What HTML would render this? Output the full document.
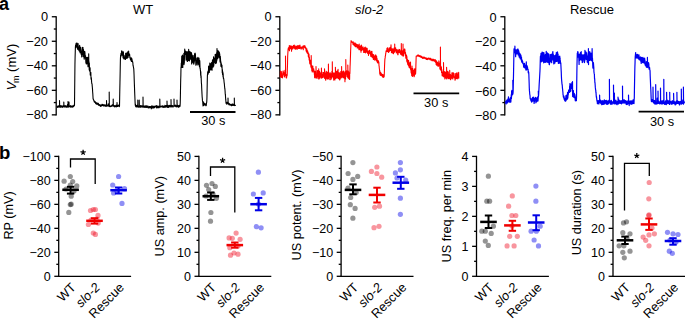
<!DOCTYPE html>
<html><head><meta charset="utf-8"><style>
html,body{margin:0;padding:0;background:#fff;width:685px;height:321px;overflow:hidden}
svg{display:block}
text{font-family:"Liberation Sans", sans-serif;}
</style></head><body>
<svg width="685" height="321" viewBox="0 0 685 321" font-family='"Liberation Sans", sans-serif'>
<rect width="685" height="321" fill="#fff"/>
<text x="-1" y="9.6" font-size="18" font-weight="bold">a</text>
<text x="-1.0" y="158.9" font-size="18.5" font-weight="bold">b</text>
<g font-size="13" text-anchor="middle">
<text x="143" y="14.2">WT</text>
<text x="369.2" y="14.2" font-style="italic">slo-2</text>
<text x="592" y="14.1">Rescue</text>
</g>
<text transform="translate(16.1,68.5) rotate(-90)" text-anchor="middle" font-size="13"><tspan font-style="italic" dx="1.5">V</tspan><tspan font-size="9" dy="2.5" dx="-1.5">m</tspan><tspan dy="-2.5"> (mV)</tspan></text>
<g stroke="#000" stroke-width="1.3" fill="none">
<line x1="56.2" y1="16.15" x2="56.2" y2="115.446" />
<line x1="51.800000000000004" y1="16.75" x2="56.2" y2="16.75" />
<line x1="53.800000000000004" y1="29.01" x2="56.2" y2="29.01" />
<line x1="51.800000000000004" y1="41.27" x2="56.2" y2="41.27" />
<line x1="53.800000000000004" y1="53.54" x2="56.2" y2="53.54" />
<line x1="51.800000000000004" y1="65.80" x2="56.2" y2="65.80" />
<line x1="53.800000000000004" y1="78.06" x2="56.2" y2="78.06" />
<line x1="51.800000000000004" y1="90.32" x2="56.2" y2="90.32" />
<line x1="53.800000000000004" y1="102.58" x2="56.2" y2="102.58" />
<line x1="51.800000000000004" y1="114.85" x2="56.2" y2="114.85" />
<line x1="279.8" y1="16.15" x2="279.8" y2="115.446" />
<line x1="275.40000000000003" y1="16.75" x2="279.8" y2="16.75" />
<line x1="277.40000000000003" y1="29.01" x2="279.8" y2="29.01" />
<line x1="275.40000000000003" y1="41.27" x2="279.8" y2="41.27" />
<line x1="277.40000000000003" y1="53.54" x2="279.8" y2="53.54" />
<line x1="275.40000000000003" y1="65.80" x2="279.8" y2="65.80" />
<line x1="277.40000000000003" y1="78.06" x2="279.8" y2="78.06" />
<line x1="275.40000000000003" y1="90.32" x2="279.8" y2="90.32" />
<line x1="277.40000000000003" y1="102.58" x2="279.8" y2="102.58" />
<line x1="275.40000000000003" y1="114.85" x2="279.8" y2="114.85" />
<line x1="504.8" y1="16.15" x2="504.8" y2="115.446" />
<line x1="500.40000000000003" y1="16.75" x2="504.8" y2="16.75" />
<line x1="502.40000000000003" y1="29.01" x2="504.8" y2="29.01" />
<line x1="500.40000000000003" y1="41.27" x2="504.8" y2="41.27" />
<line x1="502.40000000000003" y1="53.54" x2="504.8" y2="53.54" />
<line x1="500.40000000000003" y1="65.80" x2="504.8" y2="65.80" />
<line x1="502.40000000000003" y1="78.06" x2="504.8" y2="78.06" />
<line x1="500.40000000000003" y1="90.32" x2="504.8" y2="90.32" />
<line x1="502.40000000000003" y1="102.58" x2="504.8" y2="102.58" />
<line x1="500.40000000000003" y1="114.85" x2="504.8" y2="114.85" />
</g>
<g font-size="12.8">
<text x="48.0" y="21.35" text-anchor="end">0</text>
<text x="48.0" y="45.87" text-anchor="end">−20</text>
<text x="48.0" y="70.40" text-anchor="end">−40</text>
<text x="48.0" y="94.92" text-anchor="end">−60</text>
<text x="48.0" y="119.45" text-anchor="end">−80</text>
<text x="271.6" y="21.35" text-anchor="end">0</text>
<text x="271.6" y="45.87" text-anchor="end">−20</text>
<text x="271.6" y="70.40" text-anchor="end">−40</text>
<text x="271.6" y="94.92" text-anchor="end">−60</text>
<text x="271.6" y="119.45" text-anchor="end">−80</text>
<text x="496.6" y="21.95" text-anchor="end">0</text>
<text x="496.6" y="46.47" text-anchor="end">−20</text>
<text x="496.6" y="71.00" text-anchor="end">−40</text>
<text x="496.6" y="95.52" text-anchor="end">−60</text>
<text x="496.6" y="120.05" text-anchor="end">−80</text>
</g>
<polyline points="56.80,106.51 56.95,106.74 57.10,106.65 57.25,107.15 57.40,106.38 57.55,107.23 57.70,105.96 57.85,107.46 58.00,106.83 58.15,105.77 58.30,105.76 58.45,107.07 58.60,106.88 58.75,106.48 58.90,106.48 59.05,105.83 59.20,107.03 59.35,106.59 59.50,105.85 59.65,105.63 59.50,100.50 59.65,106.36 59.80,106.96 59.95,107.18 60.10,105.62 60.25,107.13 60.40,107.23 60.55,105.72 60.70,106.87 60.85,105.73 61.00,107.19 61.15,105.82 61.30,105.84 61.45,107.05 61.60,106.72 61.75,106.16 61.90,106.11 62.05,106.10 62.20,106.25 62.35,107.46 62.50,106.30 62.65,106.07 62.80,107.05 62.95,105.72 63.10,105.84 63.25,106.71 63.40,105.90 63.55,105.56 63.70,105.82 63.85,106.06 63.80,102.00 63.95,106.92 64.00,106.27 64.15,106.93 64.30,105.76 64.45,106.86 64.60,105.80 64.75,107.02 64.90,107.01 65.05,106.41 65.20,105.58 65.35,107.02 65.50,106.63 65.65,106.88 65.80,106.08 65.95,106.87 66.10,106.13 66.25,107.22 66.40,106.31 66.55,107.30 66.70,105.95 66.85,106.41 67.00,105.96 67.15,107.14 67.30,106.69 67.45,106.51 67.60,104.21 67.75,105.93 67.90,106.68 68.05,107.13 68.00,101.50 68.15,106.42 68.20,106.71 68.35,106.72 68.50,106.81 68.65,106.07 68.80,106.95 68.95,106.11 69.10,106.80 69.00,102.00 69.15,106.49 69.25,105.95 69.40,106.29 69.55,106.32 69.70,106.72 69.85,105.94 70.00,106.32 70.15,106.82 70.30,105.62 70.45,105.98 70.60,106.49 70.75,107.25 70.90,105.77 71.05,106.88 71.20,106.02 71.35,106.79 71.50,107.12 71.65,106.70 71.80,106.28 71.95,107.05 72.10,106.17 72.25,106.06 72.40,106.37 72.55,106.97 72.70,107.14 72.85,105.84 73.00,105.99 73.15,106.17 73.30,106.24 73.45,106.74 73.60,106.03 73.75,105.27 73.90,105.22 74.05,105.86 74.20,105.43 74.35,105.81 74.50,105.06 74.65,91.57 74.80,78.17 74.95,64.34 75.10,57.32 75.25,52.26 75.40,47.32 75.55,45.12 75.70,45.90 75.85,47.24 76.00,43.57 76.15,46.40 76.30,43.15 76.45,44.04 76.60,45.13 76.75,46.83 76.90,47.46 77.05,43.08 77.20,47.61 77.35,45.89 77.50,49.17 77.65,46.67 77.80,48.24 77.95,45.60 78.10,43.49 78.25,48.23 78.40,47.55 78.55,49.25 78.70,50.27 78.85,49.25 79.00,50.80 79.15,46.70 79.30,48.01 79.45,51.30 79.60,45.31 79.75,45.89 79.90,47.06 80.05,52.69 80.20,47.05 80.35,52.35 80.50,52.26 80.65,50.77 80.80,47.44 80.95,51.91 81.10,54.24 81.25,52.78 81.40,53.47 81.55,52.03 81.70,56.96 81.85,56.42 82.00,53.14 82.15,49.77 82.30,52.28 82.45,47.42 82.60,51.85 82.75,54.48 82.90,51.52 83.05,47.60 83.00,48.60 83.15,52.53 83.20,56.62 83.35,50.40 83.50,49.49 83.65,56.60 83.80,53.69 83.95,51.21 84.10,58.53 84.25,59.28 84.40,56.51 84.55,53.46 84.70,51.28 84.85,51.82 85.00,53.53 85.15,56.84 85.30,56.01 85.45,58.20 85.60,55.71 85.75,60.50 85.90,63.01 86.05,63.37 86.20,62.45 86.35,64.06 86.50,58.41 86.65,57.43 86.80,63.71 86.95,57.61 87.10,57.92 87.25,63.49 87.40,63.42 87.55,60.26 87.70,57.19 87.85,63.73 88.00,66.73 88.15,62.86 88.30,63.09 88.45,60.47 88.60,60.09 88.75,64.43 88.70,53.80 88.85,65.40 88.90,61.41 89.05,62.50 89.20,69.77 89.35,63.17 89.50,71.05 89.65,70.50 89.80,69.15 89.95,69.85 90.10,67.82 90.25,75.11 90.40,73.20 90.55,73.69 90.70,72.79 90.85,72.50 91.00,78.40 91.15,79.39 91.30,77.43 91.45,79.15 91.60,81.82 91.75,83.37 91.90,83.88 92.05,83.81 92.20,85.87 92.35,87.23 92.50,89.14 92.65,91.93 92.80,93.63 92.95,96.34 93.10,98.88 93.25,98.77 93.40,99.35 93.55,99.95 93.70,100.28 93.85,100.11 94.00,101.11 94.15,101.33 94.30,101.36 94.45,102.32 94.60,102.06 94.75,101.34 94.90,101.69 95.05,101.49 95.20,102.15 95.35,102.06 95.50,102.69 95.65,103.55 95.80,103.76 95.95,103.60 96.10,103.35 96.25,102.47 96.40,102.79 96.55,102.90 96.70,103.77 96.85,104.43 97.00,103.71 97.15,103.43 97.30,103.95 97.45,103.28 97.60,104.07 97.75,103.09 97.90,103.57 98.05,104.30 98.20,104.85 98.35,103.35 98.50,104.15 98.65,105.28 98.80,104.63 98.95,105.13 99.10,105.71 99.25,105.13 99.40,105.25 99.55,104.57 99.70,105.22 99.85,105.15 100.00,105.26 100.15,105.52 100.30,105.91 100.45,106.36 100.60,105.95 100.75,104.88 100.90,106.12 101.05,105.37 101.20,105.93 101.35,105.72 101.50,105.94 101.65,104.95 101.80,106.06 101.95,104.40 102.10,104.75 102.25,105.35 102.40,105.19 102.55,104.38 102.70,105.26 102.85,104.99 103.00,104.75 103.15,105.76 103.30,104.59 103.45,105.93 103.60,105.86 103.75,105.24 103.90,105.92 104.05,105.63 104.20,105.05 104.35,105.83 104.50,105.30 104.65,104.77 104.80,104.82 104.95,105.77 105.10,106.07 105.25,106.29 105.40,105.31 105.55,105.07 105.70,106.20 105.85,105.35 106.00,105.41 106.15,105.35 106.30,105.89 106.45,106.20 106.60,106.14 106.50,100.50 106.65,105.90 106.75,105.03 106.90,105.20 107.05,106.11 107.20,105.18 107.35,105.22 107.50,105.28 107.65,105.61 107.80,105.56 107.95,105.58 108.10,105.90 108.25,103.71 108.40,105.51 108.55,105.66 108.70,104.63 108.85,105.98 109.00,104.78 109.15,106.35 109.30,105.97 109.20,92.00 109.35,105.93 109.45,106.09 109.60,105.39 109.75,105.99 109.90,105.78 110.05,106.81 110.20,105.92 110.35,106.28 110.50,106.57 110.65,106.35 110.80,106.35 110.95,106.28 111.10,106.49 111.25,105.72 111.40,106.23 111.55,105.56 111.70,106.16 111.85,105.50 112.00,105.18 112.15,105.30 112.30,104.83 112.45,104.88 112.60,106.02 112.75,104.69 112.90,105.61 113.05,104.63 113.20,104.94 113.20,99.00 113.35,105.46 113.35,105.96 113.50,105.16 113.65,105.36 113.80,106.32 113.95,106.03 114.10,105.97 114.25,106.74 114.40,105.77 114.55,106.87 114.70,105.52 114.85,106.79 115.00,105.75 115.15,105.96 115.30,106.80 115.45,106.58 115.60,106.48 115.75,106.17 115.90,105.38 116.05,105.58 116.20,106.04 116.35,106.87 116.50,105.99 116.65,104.72 116.80,106.37 116.95,105.30 117.10,104.92 117.00,102.50 117.15,105.88 117.25,106.42 117.40,106.23 117.55,106.13 117.70,106.40 117.85,106.31 118.00,105.89 118.15,105.28 118.30,105.63 118.45,105.27 118.60,106.02 118.75,105.84 118.90,105.39 119.05,106.02 119.20,106.66 119.35,105.18 119.50,106.44 119.65,98.35 119.80,89.98 119.95,82.94 120.10,75.45 120.25,67.15 120.40,59.63 120.55,56.14 120.70,54.74 120.85,56.72 121.00,53.29 121.15,53.80 121.30,55.05 121.45,53.05 121.60,51.00 121.75,50.79 121.90,55.32 122.05,53.08 122.20,54.79 122.35,52.30 122.50,51.83 122.65,51.74 122.80,54.69 122.95,56.54 123.10,57.96 123.25,54.25 123.40,51.85 123.55,57.12 123.70,57.88 123.85,58.91 124.00,57.20 124.15,55.30 124.30,58.69 124.45,57.59 124.60,59.00 124.75,57.48 124.90,57.15 125.05,58.69 125.20,56.97 125.35,59.08 125.50,59.52 125.65,53.38 125.80,53.33 125.95,56.46 126.10,57.98 126.25,54.27 126.40,58.13 126.55,57.63 126.70,55.08 126.85,52.90 127.00,58.53 127.15,55.54 127.30,57.18 127.45,57.61 127.60,54.97 127.75,51.84 127.90,54.60 128.05,57.43 128.20,52.63 128.35,56.07 128.50,55.19 128.65,51.09 128.80,54.88 128.95,54.55 129.10,53.47 129.25,54.67 129.40,55.54 129.55,53.97 129.70,54.91 129.85,57.63 130.00,56.73 130.15,58.21 130.30,58.60 130.45,59.73 130.60,59.40 130.75,58.09 130.90,60.21 131.05,59.09 131.20,60.87 131.35,57.92 131.50,61.42 131.65,60.50 131.80,59.58 131.95,58.87 132.10,60.51 132.25,60.54 132.40,61.94 132.55,61.31 132.70,62.41 132.85,62.50 133.00,65.18 133.15,65.76 133.30,66.41 133.45,67.06 133.60,68.08 133.75,68.57 133.90,71.14 134.05,74.59 134.20,79.24 134.35,83.51 134.50,87.20 134.65,91.64 134.80,95.34 134.95,98.67 135.10,102.37 135.25,105.23 135.40,103.96 135.55,105.60 135.70,106.57 135.85,105.53 136.00,106.96 136.15,105.59 136.30,105.81 136.45,105.41 136.60,106.84 136.75,106.16 136.90,106.60 137.05,105.23 137.20,105.67 137.35,106.76 137.50,105.52 137.65,107.07 137.80,105.60 137.80,100.00 137.95,106.07 137.95,106.81 138.10,105.89 138.25,106.80 138.40,106.26 138.55,107.19 138.70,105.97 138.85,107.24 139.00,106.04 139.15,105.72 139.30,106.39 139.20,100.00 139.35,106.43 139.45,105.70 139.60,106.19 139.75,107.18 139.90,106.25 140.05,106.18 140.20,106.71 140.35,107.30 140.50,105.64 140.65,106.88 140.80,107.12 140.95,105.66 141.10,106.47 141.25,106.47 141.40,106.21 141.55,106.86 141.70,106.32 141.85,105.75 142.00,105.81 142.15,106.01 142.30,107.07 142.45,107.14 142.60,106.59 142.75,106.76 142.90,105.74 143.05,107.01 143.00,97.00 143.15,107.07 143.20,106.01 143.35,105.73 143.50,106.55 143.65,106.28 143.80,106.00 143.95,107.00 144.10,107.49 144.25,106.31 144.40,106.14 144.55,107.22 144.70,106.50 144.85,106.10 145.00,106.17 145.15,106.06 145.30,107.25 145.45,105.72 145.60,106.25 145.75,107.40 145.90,106.50 146.05,107.48 146.20,106.52 146.35,105.77 146.50,107.44 146.65,106.52 146.80,106.60 146.95,105.85 147.10,107.23 147.25,106.20 147.40,106.81 147.55,106.64 147.70,106.49 147.85,107.74 148.00,106.00 148.15,107.27 148.30,106.78 148.45,107.87 148.60,107.99 148.75,107.08 148.90,107.07 149.05,106.72 149.20,106.61 149.35,106.50 149.50,106.52 149.65,106.62 149.80,107.90 149.95,107.60 150.10,106.64 150.25,107.23 150.40,107.52 150.55,106.68 150.70,107.32 150.85,106.63 151.00,107.74 151.15,107.38 151.30,108.84 151.45,105.95 151.60,106.37 151.75,106.72 151.90,106.46 152.05,105.78 152.20,108.18 152.35,106.87 152.50,107.28 152.65,107.42 152.80,106.38 152.95,106.72 153.10,107.01 153.25,107.93 153.40,106.80 153.55,106.61 153.70,106.18 153.85,107.17 154.00,107.90 154.15,107.25 154.30,106.33 154.45,107.19 154.60,107.58 154.75,107.13 154.90,106.74 155.05,106.02 155.20,106.53 155.35,106.40 155.50,106.59 155.65,106.05 155.80,106.12 155.95,106.24 156.10,105.80 156.25,106.84 156.40,108.04 156.55,105.62 156.70,105.66 156.85,106.77 157.00,106.36 157.15,105.86 157.30,107.63 157.45,106.47 157.60,106.35 157.75,107.19 157.90,106.68 158.05,107.78 158.20,107.12 158.35,106.66 158.50,106.38 158.65,107.54 158.80,107.61 158.95,106.12 159.10,106.48 159.25,107.81 159.40,106.28 159.55,107.22 159.70,105.85 159.85,106.55 159.80,99.00 159.95,106.67 160.00,106.96 160.15,106.81 160.30,107.11 160.45,106.06 160.60,107.07 160.75,106.71 160.90,106.65 161.05,106.96 161.20,106.62 161.35,106.58 161.50,106.11 161.65,106.66 161.80,106.16 161.95,106.05 162.10,105.95 162.25,105.83 162.40,107.05 162.55,106.54 162.70,106.58 162.85,107.33 163.00,105.77 163.15,106.69 163.30,106.52 163.45,106.30 163.60,106.49 163.75,107.35 163.90,107.48 164.05,106.65 164.20,106.98 164.35,107.24 164.50,106.31 164.65,105.92 164.80,105.40 164.95,107.13 165.10,105.50 165.25,106.04 165.40,106.01 165.55,107.19 165.70,106.70 165.85,105.44 166.00,106.83 166.15,105.66 166.30,105.49 166.45,106.37 166.60,106.01 166.75,107.02 166.90,106.13 167.05,106.86 167.00,101.00 167.15,106.29 167.20,106.74 167.35,106.99 167.50,105.83 167.65,107.38 167.80,106.59 167.95,105.39 168.10,106.98 168.25,106.22 168.40,106.48 168.55,105.82 168.70,107.39 168.85,105.71 169.00,106.40 169.15,105.76 169.30,106.23 169.45,106.80 169.60,105.31 169.75,106.48 169.90,105.75 170.05,106.91 170.20,106.11 170.35,106.67 170.50,105.31 170.65,105.47 170.80,105.90 170.95,105.76 171.10,105.14 171.00,99.50 171.15,106.90 171.25,105.11 171.40,106.66 171.55,106.53 171.70,106.71 171.85,106.71 172.00,105.50 172.15,106.19 172.30,105.98 172.45,105.61 172.60,106.05 172.75,106.34 172.90,107.18 173.05,106.79 173.20,106.02 173.35,106.03 173.50,105.98 173.65,105.68 173.80,106.29 173.95,105.55 174.10,105.47 174.00,99.00 174.15,106.11 174.25,105.22 174.40,106.00 174.55,106.26 174.70,105.60 174.85,105.80 175.00,105.34 175.15,105.90 175.30,105.42 175.45,106.30 175.60,105.40 175.75,106.69 175.90,105.20 176.05,106.81 176.20,106.18 176.35,106.28 176.50,106.33 176.65,106.89 176.80,106.28 176.95,105.58 177.10,106.73 177.00,100.00 177.15,106.32 177.25,106.20 177.40,105.81 177.55,106.43 177.70,105.33 177.85,106.09 178.00,106.35 178.15,105.47 178.30,107.11 178.45,105.79 178.60,107.13 178.75,106.91 178.90,107.15 179.05,105.65 179.20,106.42 179.35,106.70 179.50,106.00 179.65,105.03 179.80,106.20 179.95,106.31 180.10,105.73 180.25,102.52 180.40,95.55 180.55,87.28 180.70,79.97 180.85,75.54 181.00,66.93 181.15,68.05 181.30,63.12 181.45,66.55 181.60,60.79 181.75,56.05 181.90,67.38 182.05,56.46 182.20,60.13 182.35,63.42 182.50,55.15 182.65,57.18 182.80,67.47 182.95,57.15 183.10,62.93 183.25,63.63 183.40,62.88 183.55,55.84 183.70,62.89 183.85,53.27 184.00,64.61 184.15,54.64 184.30,63.34 184.45,58.63 184.60,51.68 184.75,48.96 184.90,53.04 185.05,52.92 185.20,54.56 185.35,52.44 185.50,51.00 185.65,51.77 185.80,51.71 185.95,57.03 186.10,60.32 186.25,57.24 186.40,52.99 186.55,52.70 186.70,53.25 186.85,51.62 187.00,57.27 187.15,54.35 187.30,61.37 187.45,55.59 187.60,61.19 187.75,58.35 187.90,52.00 188.05,51.67 188.20,54.96 188.35,58.20 188.50,60.54 188.65,49.28 188.80,54.47 188.95,54.27 189.10,56.79 189.25,60.54 189.40,61.06 189.55,59.45 189.70,58.29 189.85,51.24 190.00,55.34 190.15,53.29 190.30,53.16 190.45,52.32 190.60,59.11 190.75,52.50 190.90,57.83 191.05,53.84 191.20,59.72 191.35,53.24 191.50,52.68 191.65,63.99 191.80,54.04 191.95,60.40 192.10,55.86 192.25,58.17 192.40,56.08 192.55,55.91 192.70,59.96 192.85,62.62 193.00,58.09 193.15,55.56 193.30,59.30 193.45,62.62 193.60,62.70 193.75,64.24 193.90,57.96 194.05,63.37 194.20,61.63 194.35,61.96 194.50,55.20 194.65,53.53 194.80,56.41 194.95,60.12 195.10,53.17 195.25,53.59 195.40,54.20 195.55,57.06 195.70,61.27 195.85,65.20 196.00,60.91 196.15,60.41 196.30,64.81 196.45,61.14 196.60,62.60 196.75,62.19 196.90,58.00 197.05,58.00 197.20,63.07 197.35,59.41 197.50,60.92 197.65,62.11 197.80,65.01 197.95,57.37 198.10,63.97 198.25,61.54 198.40,61.71 198.55,64.24 198.70,61.12 198.85,62.99 199.00,57.99 199.15,60.26 199.30,65.77 199.45,66.59 199.60,61.74 199.75,60.66 199.90,67.82 199.80,60.70 199.95,65.43 200.05,68.49 200.20,67.95 200.35,70.18 200.50,71.23 200.65,75.13 200.80,71.65 200.95,77.55 201.10,75.75 201.25,79.42 201.40,83.21 201.55,84.26 201.70,87.98 201.85,90.86 202.00,93.98 202.15,96.82 202.30,98.19 202.45,100.63 202.60,101.30 202.75,101.60 202.90,104.48 203.05,106.00 203.20,103.97 203.35,105.47 203.50,105.46 203.65,102.09 203.80,103.29 203.95,105.32 204.10,104.40 204.25,104.79 204.40,104.76 204.55,104.32 204.70,103.59 204.85,103.79 205.00,104.61 205.15,104.96 205.30,104.23 205.45,104.76 205.60,104.21 205.75,103.86 205.90,105.79 206.05,104.02 206.20,105.75 206.35,104.40 206.50,103.13 206.65,102.51 206.80,101.22 206.95,97.59 207.10,90.16 207.25,82.37 207.40,75.61 207.55,74.19 207.70,72.01 207.85,73.48 208.00,71.16 208.15,74.25 208.30,72.49 208.45,71.59 208.60,65.93 208.75,69.42 208.90,70.74 209.05,71.95 209.20,69.99 209.35,72.38 209.50,66.04 209.65,69.94 209.80,63.00 209.95,65.13 210.10,63.18 210.25,64.23 210.40,64.04 210.55,69.86 210.70,69.77 210.85,67.40 211.00,68.90 211.15,68.39 211.30,69.76 211.45,62.50 211.60,65.59 211.75,64.03 211.90,65.02 212.05,70.31 212.20,65.80 212.35,61.71 212.50,59.81 212.65,64.81 212.80,66.84 212.95,63.07 213.10,67.11 213.25,65.70 213.40,63.41 213.55,56.70 213.70,66.16 213.85,64.51 214.00,60.66 214.15,60.21 214.30,59.66 214.45,58.85 214.60,60.49 214.75,57.92 214.90,57.75 215.05,62.70 215.20,54.35 215.35,56.68 215.50,63.16 215.65,63.56 215.80,62.83 215.95,54.34 216.10,60.05 216.25,60.00 216.40,62.86 216.55,58.14 216.70,52.62 216.85,60.63 217.00,48.51 217.15,56.24 217.30,58.40 217.45,50.49 217.60,58.45 217.75,58.71 217.90,53.70 218.05,50.54 218.20,53.07 218.35,55.66 218.50,56.99 218.65,52.28 218.80,51.49 218.95,52.17 219.10,57.60 219.25,52.23 219.40,52.82 219.55,53.40 219.70,53.67 219.85,55.82 220.00,60.85 220.15,62.25 220.30,56.39 220.45,58.55 220.60,60.78 220.75,61.13 220.90,66.27 221.05,62.61 221.20,66.41 221.35,63.68 221.50,64.80 221.65,67.16 221.80,67.23 221.95,65.13 222.10,68.52 222.25,72.72 222.40,69.51 222.55,74.55 222.70,72.04 222.85,71.86 223.00,76.49 223.15,73.59 223.30,77.66 223.45,78.75 223.60,78.09 223.75,79.07 223.90,79.90 224.05,81.70 224.20,82.88 224.35,83.80 224.50,85.75 224.65,87.30 224.80,88.73 224.95,89.45 225.10,91.39 225.25,94.17 225.40,94.73 225.55,97.21 225.70,99.42 225.85,100.69 226.00,103.23 226.15,102.18 226.30,102.57 226.45,102.17 226.60,102.49 226.75,104.22 226.90,103.20 227.05,103.15 227.20,102.34 227.35,102.37 227.50,103.39 227.65,103.11 227.80,102.84 227.95,103.90 228.10,103.13 228.00,98.00 228.15,103.50 228.25,103.07 228.40,103.00 228.55,104.24 228.70,103.12 228.85,104.71 229.00,103.35 229.15,103.55 229.30,103.48 229.45,103.77 229.60,104.56 229.75,104.39 229.90,105.13 230.05,105.24 230.20,104.64 230.35,104.51 230.50,104.66 230.65,105.01 230.80,104.44 230.95,104.15 231.10,104.46 231.25,105.47 231.40,105.63 231.55,104.72 231.70,105.59 231.85,104.68 232.00,105.26 232.15,104.31 232.30,104.05 232.45,105.11 232.60,105.33 232.75,105.14 232.90,105.20 233.05,104.10 233.20,104.35 233.35,104.39 233.50,105.24 233.65,105.44 233.80,104.94 233.95,104.97 234.10,105.53 234.25,104.33 234.40,105.06 234.30,98.00 234.45,105.48 234.55,104.99 234.70,105.27 234.85,105.62 235.00,105.58 235.15,105.29 235.30,105.50 235.45,105.09" fill="none" stroke="#000" stroke-width="1.1" stroke-linejoin="round"/>
<polyline points="280.30,77.25 280.45,70.98 280.60,72.58 280.75,71.84 280.90,72.62 281.05,77.19 281.20,77.42 281.35,71.51 281.50,75.62 281.65,73.00 281.80,75.89 281.95,77.23 282.10,75.62 282.25,75.71 282.40,77.83 282.55,76.24 282.70,74.99 282.85,75.95 283.00,71.22 283.15,70.93 283.30,73.46 283.45,74.53 283.60,72.12 283.75,74.17 283.90,74.34 284.05,73.21 284.20,73.83 284.35,77.05 284.50,72.92 284.65,76.30 284.80,73.28 284.95,70.38 285.10,71.00 285.25,72.40 285.40,72.72 285.55,70.90 285.50,56.00 285.65,75.32 285.70,75.32 285.85,75.94 286.00,74.34 286.15,77.82 286.30,77.38 286.45,75.25 286.60,78.06 286.75,74.57 286.90,75.39 287.05,76.03 287.20,74.75 287.35,68.96 287.50,64.91 287.65,56.95 287.80,53.99 287.95,51.89 288.10,49.30 288.25,48.48 288.40,47.85 288.55,49.66 288.70,47.52 288.85,47.86 289.00,47.17 289.15,48.85 289.30,45.63 289.45,50.64 289.60,46.51 289.75,47.65 289.90,45.96 290.05,46.09 290.20,47.74 290.35,48.73 290.50,45.83 290.65,47.90 290.80,46.03 290.95,48.00 291.10,48.73 291.25,47.52 291.40,46.75 291.55,51.29 291.70,46.07 291.85,48.69 292.00,46.79 292.15,47.39 292.30,46.58 292.45,48.65 292.60,48.12 292.75,49.08 292.90,46.91 293.05,48.07 293.20,47.53 293.35,45.57 293.50,46.24 293.65,46.65 293.80,45.29 293.95,47.92 294.10,46.79 294.25,45.08 294.40,47.68 294.55,48.36 294.70,45.75 294.85,47.47 295.00,49.03 295.15,48.02 295.30,46.97 295.45,49.16 295.60,48.99 295.75,48.06 295.90,46.71 296.05,45.93 296.20,48.56 296.35,47.50 296.50,46.61 296.65,47.56 296.80,49.07 296.95,48.08 297.10,49.56 297.25,46.11 297.40,47.68 297.55,46.10 297.70,46.58 297.85,45.47 298.00,48.16 298.15,46.84 298.30,46.91 298.45,46.34 298.60,48.52 298.75,46.97 298.90,45.60 299.05,48.47 299.20,46.92 299.35,45.69 299.50,46.23 299.65,48.49 299.80,47.34 299.95,45.16 300.10,46.70 300.25,48.14 300.40,46.93 300.55,47.84 300.70,47.42 300.85,48.11 301.00,47.16 301.15,49.15 301.30,48.26 301.45,48.39 301.60,47.09 301.75,47.37 301.90,47.27 302.05,47.84 302.20,47.06 302.35,48.09 302.50,47.51 302.65,48.09 302.80,47.74 302.95,46.15 303.10,46.72 303.25,49.61 303.40,46.06 303.55,47.36 303.70,45.87 303.85,47.21 304.00,45.73 304.15,46.29 304.30,46.97 304.45,47.43 304.60,46.03 304.75,45.65 304.90,45.85 305.05,47.74 305.20,48.23 305.35,47.68 305.50,47.09 305.65,48.17 305.80,48.30 305.95,47.87 306.10,51.08 306.25,51.23 306.40,50.01 306.55,51.84 306.70,50.08 306.85,48.82 307.00,52.26 307.15,50.45 307.30,53.16 307.45,51.46 307.60,50.85 307.75,52.63 307.90,53.78 308.05,51.98 308.20,53.57 308.35,56.78 308.50,54.47 308.65,57.27 308.80,53.93 308.95,55.25 309.10,56.90 309.00,54.00 309.15,59.98 309.25,56.95 309.40,57.29 309.55,60.14 309.70,62.90 309.85,63.98 310.00,59.88 310.15,60.45 310.30,62.58 310.45,61.64 310.60,62.62 310.75,64.61 310.90,66.95 311.05,63.71 311.20,64.34 311.35,67.88 311.20,55.60 311.35,67.03 311.50,65.11 311.65,65.82 311.80,70.62 311.95,66.14 312.10,66.85 312.25,71.99 312.40,65.99 312.55,69.96 312.70,68.94 312.85,66.14 313.00,71.20 313.15,69.83 313.30,70.21 313.45,70.46 313.60,69.46 313.75,68.77 313.90,72.08 314.05,72.74 314.20,70.89 314.35,74.00 314.50,75.05 314.65,77.80 314.80,73.16 314.95,73.59 315.10,71.26 315.25,74.38 315.40,73.72 315.55,76.80 315.70,73.49 315.85,78.06 316.00,74.39 316.15,74.81 316.00,66.50 316.15,73.84 316.30,77.98 316.45,74.13 316.60,77.62 316.75,77.81 316.90,77.09 317.05,76.71 317.20,78.31 317.35,72.01 317.50,70.62 317.65,76.17 317.80,73.87 317.95,70.57 318.10,73.90 318.25,75.77 318.40,76.99 318.55,76.33 318.70,78.93 318.85,75.96 318.70,68.80 318.85,74.68 319.00,77.36 319.15,78.45 319.30,78.81 319.45,75.70 319.60,71.31 319.75,77.20 319.90,77.40 320.05,77.02 320.20,74.92 320.35,75.32 320.50,72.71 320.65,74.15 320.80,76.71 320.95,73.14 321.10,78.12 321.25,77.93 321.40,72.53 321.55,72.10 321.40,68.00 321.55,75.26 321.70,77.64 321.85,77.34 322.00,77.98 322.15,77.08 322.30,76.73 322.45,74.40 322.60,76.27 322.75,75.27 322.90,72.22 323.05,77.40 323.20,73.75 323.35,73.75 323.50,72.95 323.65,72.49 323.80,76.12 323.95,75.74 324.10,76.18 324.25,74.21 324.40,77.36 324.55,72.30 324.50,68.80 324.65,76.16 324.70,78.45 324.85,70.86 325.00,73.46 325.15,77.67 325.30,74.63 325.45,72.74 325.60,79.82 325.75,80.25 325.90,76.49 326.05,75.94 326.20,73.72 326.35,78.27 326.50,73.77 326.65,71.41 326.80,77.28 326.95,76.62 327.10,73.60 327.25,79.10 327.40,72.36 327.55,76.20 327.70,76.53 327.85,78.68 328.00,74.25 328.15,78.46 328.30,73.62 328.45,73.72 328.40,64.00 328.55,75.46 328.60,72.17 328.75,76.73 328.90,74.84 329.05,76.03 329.20,79.58 329.35,73.67 329.50,73.51 329.65,76.04 329.80,76.77 329.95,72.68 330.10,75.77 330.25,72.78 330.40,77.59 330.55,75.16 330.70,79.79 330.85,78.40 331.00,78.62 331.15,73.75 331.30,79.05 331.45,75.47 331.60,77.89 331.75,76.64 331.90,71.31 332.05,76.22 332.20,74.89 332.35,72.25 332.30,61.80 332.45,74.57 332.50,73.88 332.65,72.04 332.80,73.95 332.95,76.99 333.10,74.34 333.25,78.10 333.40,76.25 333.55,76.98 333.70,80.09 333.85,72.97 334.00,75.40 334.15,72.96 334.30,79.71 334.45,76.18 334.60,79.69 334.75,73.04 334.90,80.03 335.05,74.68 335.20,74.72 335.35,77.01 335.50,77.58 335.40,67.30 335.55,77.31 335.65,78.24 335.80,73.24 335.95,78.46 336.10,71.70 336.25,78.00 336.40,71.63 336.55,74.06 336.70,75.68 336.85,77.03 337.00,77.36 337.15,70.84 337.30,77.44 337.45,76.09 337.60,71.90 337.75,71.59 337.90,78.18 338.05,69.28 338.20,78.60 338.35,77.41 338.50,78.00 338.65,75.04 338.80,74.09 338.95,75.05 339.10,72.57 339.25,78.46 339.40,79.65 339.55,72.94 339.70,80.07 339.85,76.07 340.00,76.33 340.15,78.48 340.30,78.88 340.45,73.37 340.60,75.27 340.75,71.65 340.90,72.84 341.05,77.22 341.20,76.13 341.35,72.16 341.50,73.56 341.65,73.44 341.60,66.50 341.75,76.74 341.80,77.85 341.95,72.70 342.10,76.83 342.25,72.48 342.40,76.63 342.55,71.75 342.70,75.80 342.85,75.95 343.00,75.51 343.15,77.58 343.30,71.28 343.45,71.69 343.60,76.35 343.75,71.00 343.90,72.65 344.05,75.61 344.20,78.20 344.35,76.13 344.50,74.05 344.65,73.83 344.80,75.58 344.95,81.77 345.10,72.15 345.25,76.27 345.40,73.81 345.55,78.93 345.70,71.17 345.85,74.35 345.80,59.50 345.95,76.42 346.00,73.27 346.15,71.16 346.30,72.81 346.45,72.19 346.60,74.20 346.75,70.82 346.90,71.81 347.05,73.37 347.20,74.21 347.35,76.75 347.50,71.96 347.65,70.67 347.80,77.44 347.95,74.45 347.80,65.00 347.95,74.81 348.10,70.57 348.25,78.30 348.40,71.30 348.55,78.13 348.70,72.50 348.85,77.47 349.00,78.95 349.15,78.79 349.30,75.27 349.45,77.56 349.60,79.52 349.75,71.65 349.90,73.61 350.05,66.88 350.20,63.86 350.35,59.28 350.50,55.27 350.65,50.33 350.80,46.66 350.95,42.94 351.10,40.55 351.25,41.74 351.40,42.01 351.55,41.23 351.70,41.86 351.85,42.19 352.00,42.12 352.15,42.32 352.30,42.59 352.45,42.51 352.60,42.01 352.75,42.17 352.90,42.57 353.05,44.36 353.20,41.87 353.35,43.88 353.50,44.56 353.65,43.10 353.80,42.88 353.95,43.58 354.10,45.51 354.25,44.23 354.40,44.74 354.55,43.00 354.70,46.07 354.85,43.15 355.00,43.36 355.15,44.42 355.30,43.17 355.45,46.75 355.60,44.74 355.75,44.20 355.90,43.84 356.05,46.69 356.20,46.49 356.35,45.44 356.50,44.42 356.65,45.33 356.80,44.25 356.95,45.58 357.10,44.53 357.25,48.08 357.40,47.83 357.55,44.84 357.70,47.77 357.85,47.07 358.00,47.71 358.15,45.05 358.30,45.01 358.45,45.06 358.60,48.16 358.75,48.56 358.90,49.35 359.05,49.72 359.20,47.59 359.35,49.12 359.20,44.00 359.35,48.89 359.50,49.50 359.65,46.06 359.80,48.44 359.95,47.16 360.10,48.38 360.25,50.04 360.40,49.85 360.55,46.00 360.70,50.12 360.85,48.07 361.00,52.20 361.15,46.83 361.30,45.08 361.45,50.16 361.60,45.55 361.75,49.03 361.90,50.39 362.05,47.41 362.20,49.71 362.35,48.16 362.50,47.29 362.65,48.20 362.80,47.32 362.95,46.82 363.10,49.49 363.25,49.95 363.40,50.41 363.55,48.81 363.70,52.41 363.85,49.95 364.00,48.27 364.15,47.92 364.30,51.43 364.45,51.25 364.60,52.54 364.75,47.56 364.90,48.95 365.05,50.23 365.20,47.14 365.35,51.63 365.50,53.01 365.65,47.88 365.80,49.95 365.95,52.15 366.10,47.78 366.25,48.94 366.40,51.68 366.55,52.05 366.70,50.50 366.85,51.90 367.00,52.24 367.15,48.24 367.30,51.53 367.45,51.96 367.60,53.09 367.75,53.49 367.90,51.27 368.05,51.99 368.20,53.55 368.35,52.34 368.50,55.45 368.65,53.36 368.80,53.99 368.95,50.45 369.10,51.81 369.25,51.40 369.40,50.79 369.55,50.34 369.70,50.39 369.85,50.75 370.00,53.79 370.15,51.87 370.30,53.00 370.45,53.90 370.60,54.55 370.75,56.28 370.90,56.12 371.05,56.43 371.20,51.72 371.35,51.44 371.50,56.16 371.65,55.44 371.80,52.32 371.95,51.29 372.10,56.76 372.25,57.58 372.40,54.30 372.55,53.90 372.70,56.04 372.85,54.31 373.00,54.24 373.15,54.60 373.30,59.15 373.45,55.12 373.60,59.51 373.75,54.69 373.90,57.01 374.05,57.40 374.20,56.88 374.35,55.72 374.50,57.38 374.65,58.37 374.80,60.19 374.95,58.67 375.10,58.84 375.25,58.85 375.40,56.79 375.55,55.68 375.70,54.71 375.85,59.55 376.00,59.74 376.15,58.57 376.30,60.76 376.45,56.76 376.60,56.13 376.75,61.03 376.90,58.27 377.05,58.40 377.20,62.01 377.35,61.64 377.50,62.43 377.65,62.92 377.80,62.66 377.95,60.39 378.10,61.65 378.25,61.99 378.40,62.46 378.55,61.15 378.70,63.26 378.85,62.18 379.00,65.76 379.15,66.20 379.30,68.26 379.45,69.23 379.60,70.47 379.75,73.69 379.90,70.72 380.05,74.43 380.20,75.10 380.35,73.01 380.50,73.70 380.65,72.66 380.80,73.60 380.95,75.34 381.10,73.10 381.25,73.15 381.40,74.73 381.55,74.34 381.70,75.85 381.85,75.65 382.00,75.00 382.15,74.95 382.30,74.69 382.45,75.53 382.60,76.95 382.75,74.42 382.90,76.10 383.05,77.31 383.20,75.25 383.35,77.48 383.50,76.29 383.65,75.98 383.80,76.31 383.95,74.57 384.10,77.01 384.25,75.28 384.40,70.94 384.55,65.98 384.70,62.66 384.85,59.64 385.00,58.68 385.15,57.65 385.30,56.08 385.45,55.79 385.60,54.70 385.75,52.95 385.90,53.12 386.05,50.70 386.20,50.70 386.35,50.59 386.50,50.78 386.65,50.91 386.80,51.32 386.95,48.32 387.10,51.42 387.25,50.24 387.40,48.09 387.55,47.84 387.70,50.05 387.85,51.02 388.00,51.77 388.15,51.97 388.30,50.23 388.45,51.55 388.60,52.55 388.75,49.88 388.90,48.80 389.05,47.95 389.20,51.65 389.35,50.95 389.50,49.81 389.65,51.07 389.80,49.51 389.95,49.44 390.10,47.30 390.25,48.22 390.40,48.69 390.55,50.38 390.70,49.12 390.85,49.28 391.00,44.88 391.15,48.42 391.30,49.77 391.45,52.40 391.60,49.10 391.75,49.90 391.90,52.61 392.05,49.59 392.20,48.79 392.35,52.91 392.50,51.79 392.65,48.93 392.80,52.51 392.95,52.17 393.10,53.17 393.25,49.51 393.40,53.77 393.55,53.41 393.70,52.45 393.85,48.83 394.00,48.16 394.15,48.44 394.30,49.29 394.45,52.20 394.60,49.00 394.75,50.22 394.70,44.00 394.85,51.45 394.90,51.26 395.05,49.19 395.20,47.73 395.35,50.64 395.50,48.82 395.65,47.86 395.80,50.61 395.95,50.12 396.10,50.50 396.25,52.67 396.40,50.32 396.55,49.50 396.70,51.54 396.85,49.69 397.00,52.96 397.15,49.59 397.30,49.99 397.45,52.86 397.60,51.21 397.75,54.65 397.90,51.52 398.05,54.82 398.20,51.61 398.35,50.71 398.50,50.38 398.65,52.54 398.80,52.18 398.95,49.40 399.10,50.74 399.25,49.92 399.40,52.45 399.55,51.73 399.70,49.59 399.85,51.78 400.00,51.86 400.15,53.16 400.30,51.78 400.45,53.10 400.60,53.49 400.75,54.42 400.90,54.31 401.05,50.14 401.20,51.88 401.35,54.20 401.30,43.50 401.45,53.37 401.50,54.97 401.65,53.68 401.80,51.86 401.95,51.42 402.10,51.91 402.25,50.77 402.40,55.31 402.55,51.51 402.70,50.43 402.85,54.80 403.00,55.86 403.15,56.28 403.00,44.00 403.15,53.54 403.30,55.38 403.45,55.88 403.60,51.36 403.75,50.41 403.90,51.55 404.05,50.56 404.20,53.16 404.35,48.96 404.50,53.05 404.65,51.86 404.80,49.17 404.95,50.42 405.10,53.39 405.25,55.04 405.40,55.62 405.55,52.67 405.70,56.23 405.85,58.31 406.00,56.30 406.15,54.90 406.30,55.86 406.45,55.09 406.60,55.61 406.75,61.15 406.90,56.52 407.05,60.15 407.20,62.13 407.35,60.07 407.50,59.62 407.65,64.29 407.80,61.26 407.95,63.01 408.10,64.63 408.25,61.84 408.40,65.57 408.55,60.35 408.70,60.98 408.85,65.25 409.00,66.86 409.15,67.42 409.30,63.54 409.45,67.02 409.60,62.73 409.75,62.90 409.90,64.06 410.05,68.24 410.20,67.32 410.35,65.29 410.50,66.20 410.65,69.70 410.50,62.00 410.65,69.54 410.80,70.21 410.95,68.36 411.10,72.51 411.25,70.00 411.40,73.55 411.55,67.96 411.70,75.60 411.85,74.44 412.00,71.11 412.15,73.81 412.00,66.00 412.15,71.38 412.30,74.79 412.45,76.52 412.60,73.30 412.75,68.49 412.90,70.79 413.05,71.50 413.20,73.65 413.35,73.02 413.50,70.50 413.65,75.69 413.80,73.47 413.95,71.00 414.10,76.73 414.25,76.34 414.40,69.09 414.55,75.15 414.70,70.02 414.85,68.71 415.00,73.52 415.15,71.38 415.30,74.18 415.45,69.56 415.60,73.66 415.75,71.15 415.90,65.11 416.05,60.45 416.20,55.97 416.35,56.12 416.50,56.34 416.65,56.02 416.80,56.29 416.95,55.73 417.10,55.99 417.25,55.65 417.40,56.10 417.55,55.02 417.70,55.27 417.85,55.73 418.00,55.53 418.15,55.10 418.30,56.15 418.45,56.13 418.60,55.02 418.75,56.08 418.90,55.27 419.05,55.44 419.20,55.77 419.35,56.51 419.50,55.92 419.65,56.65 419.80,55.85 419.95,56.19 420.10,56.35 420.25,55.91 420.40,56.13 420.55,55.94 420.70,56.22 420.85,57.40 421.00,56.41 421.15,56.58 421.30,56.32 421.45,56.21 421.60,57.42 421.75,56.53 421.90,57.75 422.05,57.74 422.20,57.94 422.35,57.01 422.50,58.33 422.65,57.24 422.80,57.97 422.95,57.19 423.10,56.99 423.25,56.97 423.40,57.64 423.55,58.12 423.70,58.31 423.85,57.47 424.00,57.49 424.15,57.15 424.30,57.90 424.45,58.21 424.60,57.33 424.75,58.07 424.90,58.07 425.05,57.77 425.20,58.68 425.35,58.75 425.50,58.48 425.65,57.95 425.80,58.43 425.95,57.97 426.10,58.94 426.25,59.12 426.40,59.33 426.55,59.29 426.70,58.01 426.85,59.41 427.00,58.20 427.15,59.57 427.30,59.61 427.45,59.53 427.60,58.72 427.75,58.80 427.90,58.76 428.05,58.16 428.20,58.91 428.35,58.00 428.50,58.21 428.65,59.29 428.80,58.68 428.95,58.16 429.10,58.26 429.25,58.59 429.40,58.87 429.55,58.41 429.70,58.96 429.85,59.69 430.00,58.26 430.15,58.59 430.30,58.39 430.45,58.39 430.60,58.94 430.75,60.07 430.90,59.35 431.05,59.82 431.20,58.96 431.35,59.95 431.50,59.20 431.65,60.13 431.80,60.61 431.95,59.06 432.10,58.99 432.25,60.56 432.40,59.62 432.55,60.41 432.70,60.72 432.85,59.74 433.00,60.41 433.15,59.31 433.30,60.17 433.45,59.26 433.60,60.17 433.75,60.76 433.90,60.47 434.05,61.03 434.20,61.32 434.35,60.18 434.50,60.36 434.65,59.76 434.80,59.62 434.95,59.93 435.10,59.51 435.25,59.78 435.40,62.20 435.55,61.38 435.70,62.03 435.85,61.94 436.00,60.66 436.15,64.42 436.30,63.91 436.45,62.47 436.60,61.05 436.75,63.79 436.90,65.43 437.05,63.68 437.20,65.30 437.35,64.13 437.50,62.28 437.65,63.44 437.80,62.88 437.95,63.22 438.10,66.54 438.25,65.44 438.40,66.31 438.55,64.54 438.70,64.22 438.85,60.83 439.00,61.57 439.15,62.23 439.30,62.50 439.45,62.60 439.60,65.97 439.75,63.95 439.90,68.98 440.05,63.59 440.20,67.16 440.35,68.31 440.50,69.97 440.40,47.00 440.55,67.09 440.65,67.13 440.80,66.73 440.95,66.35 441.10,68.90 441.25,68.06 441.40,66.96 441.55,72.41 441.70,71.20 441.85,69.46 442.00,72.58 442.15,75.81 442.30,72.67 442.45,72.15 442.60,72.50 442.75,75.14 442.90,76.20 443.05,72.16 443.20,72.01 443.35,74.51 443.50,74.59 443.65,76.64 443.50,62.60 443.65,73.14 443.80,72.26 443.95,71.17 444.10,74.95 444.25,77.01 444.40,74.26 444.55,73.75 444.70,71.84 444.85,78.99 445.00,74.13 445.15,74.68 445.30,74.65 445.45,75.23 445.60,76.03 445.75,71.96 445.90,75.00 446.05,78.31 446.20,74.27 446.35,74.98 446.50,77.84 446.65,73.46 446.60,67.30 446.75,75.86 446.80,79.04 446.95,76.33 447.10,75.75 447.25,75.70 447.40,73.23 447.55,74.61 447.70,71.31 447.85,77.83 448.00,76.65 448.15,78.32 448.30,72.10 448.45,78.59 448.60,76.52 448.75,76.57 448.90,77.66 449.05,74.19 449.20,78.40 449.35,77.89 449.50,75.39 449.65,75.13 449.80,75.37 449.70,70.40 449.85,75.77 449.95,77.16 450.10,78.76 450.25,79.50 450.40,79.32 450.55,74.62 450.70,79.77 450.85,77.43 451.00,77.59 451.15,78.46 451.30,75.23 451.45,76.78 451.60,76.17 451.75,76.26 451.90,72.90 452.05,78.30 452.20,76.12 452.35,73.49 452.50,75.64 452.65,73.19 452.80,79.06 452.95,72.57 453.10,77.68 453.25,73.84 453.40,76.08 453.55,73.23 453.70,74.96 453.85,73.24 454.00,73.46 454.15,74.76 454.30,77.82 454.45,76.69 454.60,76.76 454.75,77.13 454.90,78.54 455.05,80.13 455.20,80.09 455.35,78.80 455.50,77.26 455.65,73.65 455.80,77.40 455.95,77.20 456.10,73.57 456.25,78.53 456.40,78.65 456.55,74.40 456.70,73.24 456.85,76.00 457.00,72.63 457.15,78.27 457.30,74.52 457.45,73.90 457.60,75.00 457.75,78.83 457.90,77.85 458.05,77.90 458.20,77.88 458.35,75.75 458.50,73.78 458.65,72.34 458.80,78.49" fill="none" stroke="#f00" stroke-width="1.1" stroke-linejoin="round"/>
<polyline points="505.60,101.29 505.75,103.49 505.90,101.19 506.05,102.70 506.20,103.89 506.35,102.03 506.50,102.56 506.65,101.27 506.80,100.19 506.95,102.40 507.10,102.64 507.25,101.51 507.40,99.89 507.55,102.95 507.70,100.23 507.85,102.20 508.00,100.70 508.15,98.45 508.30,101.01 508.45,96.85 508.60,101.54 508.75,99.96 508.90,100.50 509.05,100.29 509.20,99.96 509.35,100.97 509.50,100.68 509.65,102.11 509.80,98.92 509.95,100.07 510.10,98.61 510.25,97.86 510.40,99.87 510.55,102.04 510.70,97.24 510.85,102.06 511.00,99.18 511.15,96.41 511.30,94.49 511.45,98.41 511.60,91.14 511.75,95.99 511.90,90.28 512.05,94.35 512.20,91.18 512.35,94.45 512.50,94.74 512.65,94.34 512.80,94.40 512.95,92.34 512.80,80.30 512.95,93.61 513.10,92.25 513.25,87.24 513.40,79.75 513.55,72.64 513.70,64.48 513.85,56.73 514.00,48.79 514.15,50.79 514.30,51.93 514.45,48.79 514.60,50.60 514.75,52.58 514.90,46.17 515.05,50.42 515.20,51.10 515.35,52.90 515.50,53.99 515.65,56.77 515.80,52.24 515.95,49.75 516.10,50.89 516.25,51.57 516.40,49.73 516.55,50.08 516.70,51.73 516.85,53.92 517.00,52.01 517.15,52.98 517.30,51.37 517.45,50.94 517.60,49.09 517.75,51.18 517.90,53.19 518.05,49.22 518.20,54.99 518.35,50.09 518.50,53.66 518.65,52.16 518.80,50.79 518.95,55.88 519.10,56.23 519.25,57.08 519.40,55.69 519.55,53.11 519.70,54.68 519.85,53.80 520.00,57.97 520.15,53.92 520.30,58.92 520.45,56.14 520.60,54.49 520.75,55.40 520.90,55.15 521.05,57.71 521.20,56.86 521.35,60.52 521.50,57.15 521.65,61.69 521.80,60.12 521.95,62.06 522.10,62.51 522.25,60.19 522.40,62.77 522.55,61.84 522.70,61.61 522.85,63.46 523.00,63.81 523.15,63.04 523.30,63.63 523.45,63.86 523.60,67.09 523.75,66.65 523.90,65.01 524.05,64.07 524.20,67.32 524.35,64.79 524.50,63.30 524.65,66.18 524.80,67.91 524.95,67.16 525.10,65.92 525.25,66.34 525.40,65.31 525.55,68.14 525.70,67.23 525.85,69.93 526.00,67.66 526.15,66.12 526.30,61.75 526.45,68.23 526.60,69.95 526.75,66.83 526.90,65.50 527.05,68.69 527.20,65.89 527.35,67.26 527.50,67.12 527.65,69.02 527.80,69.26 527.95,69.70 528.10,69.39 528.25,72.84 528.40,71.35 528.55,72.89 528.70,72.19 528.85,74.52 529.00,78.75 529.15,83.04 529.30,88.01 529.45,90.90 529.60,91.96 529.75,94.30 529.90,94.80 530.05,96.17 530.20,98.63 530.35,98.99 530.50,98.48 530.65,99.37 530.80,99.78 530.95,100.87 531.10,100.90 531.25,98.78 531.40,98.84 531.55,101.86 531.70,102.09 531.85,99.81 532.00,100.62 532.15,99.02 532.30,101.18 532.45,97.96 532.60,97.28 532.75,101.18 532.90,100.84 533.05,97.52 533.20,100.64 533.35,100.37 533.50,98.83 533.65,96.98 533.80,99.24 533.95,98.66 534.10,103.37 534.25,100.29 534.40,102.09 534.55,101.22 534.70,98.54 534.85,100.07 535.00,99.75 535.15,98.78 535.30,99.28 535.45,97.45 535.60,98.47 535.75,100.01 535.90,102.84 536.05,101.78 536.20,97.86 536.35,101.94 536.50,101.36 536.65,99.28 536.80,101.55 536.95,101.61 537.10,98.41 537.25,99.79 537.40,97.92 537.55,97.32 537.70,99.90 537.85,96.71 538.00,100.99 538.15,98.73 538.30,96.31 538.45,96.35 538.30,91.20 538.45,96.40 538.60,95.18 538.75,92.58 538.90,90.00 539.05,87.10 539.20,84.14 539.35,81.41 539.50,79.24 539.65,76.53 539.80,73.72 539.95,71.27 540.10,67.00 540.25,61.49 540.40,56.46 540.55,56.73 540.70,55.57 540.85,55.99 541.00,53.25 541.15,54.69 541.30,61.80 541.45,56.74 541.60,53.35 541.75,59.63 541.90,54.76 542.05,52.15 542.20,58.40 542.35,61.20 542.50,52.71 542.65,60.90 542.80,52.43 542.95,58.49 543.10,53.43 543.25,61.08 543.40,54.46 543.55,57.33 543.70,62.84 543.85,52.51 544.00,53.98 544.15,58.22 544.30,62.47 544.45,55.03 544.60,61.71 544.75,62.07 544.90,58.46 545.05,58.04 545.20,58.24 545.35,54.51 545.50,59.46 545.65,62.35 545.80,62.44 545.95,55.81 546.10,55.17 546.25,51.32 546.40,57.02 546.55,53.78 546.70,55.16 546.85,54.37 547.00,61.82 547.15,61.90 547.30,52.80 547.45,55.74 547.60,53.10 547.75,55.35 547.90,62.52 548.05,60.36 548.20,61.16 548.35,61.82 548.50,60.18 548.65,53.79 548.80,61.26 548.95,61.49 549.10,64.17 549.25,58.16 549.40,64.70 549.55,58.19 549.70,62.85 549.85,61.63 550.00,57.65 550.15,54.61 550.30,61.64 550.45,55.26 550.60,55.85 550.75,56.24 550.90,58.18 551.05,54.66 551.20,61.78 551.35,54.04 551.50,58.46 551.65,62.64 551.80,58.87 551.95,60.78 552.10,58.41 552.25,58.99 552.40,54.50 552.55,56.86 552.70,52.06 552.85,51.61 553.00,53.86 553.15,57.39 553.30,59.87 553.45,54.67 553.60,58.13 553.75,63.52 553.90,64.01 554.05,59.25 554.20,57.33 554.35,55.66 554.50,56.63 554.65,63.12 554.80,62.00 554.95,63.00 555.10,59.82 555.25,60.78 555.40,59.14 555.55,55.19 555.70,61.38 555.85,57.72 556.00,54.27 556.15,61.47 556.30,52.49 556.45,61.51 556.60,61.18 556.75,58.48 556.90,54.11 557.05,54.22 557.20,54.57 557.35,51.86 557.50,54.82 557.65,52.67 557.80,61.61 557.95,60.90 558.10,54.14 558.25,60.17 558.40,63.47 558.55,59.59 558.70,62.50 558.85,62.74 559.00,56.61 559.15,58.94 559.30,61.84 559.45,62.60 559.60,61.63 559.75,56.10 559.90,63.41 560.05,57.87 560.20,59.89 560.35,60.76 560.50,62.57 560.65,63.45 560.80,62.91 560.95,66.31 561.10,69.21 561.25,71.89 561.40,75.95 561.55,78.98 561.70,80.83 561.85,82.34 562.00,84.26 562.15,84.39 562.30,86.04 562.45,88.30 562.60,88.90 562.75,90.96 562.90,92.27 563.05,94.77 563.20,94.92 563.35,97.06 563.50,95.94 563.65,97.28 563.80,98.09 563.95,96.09 564.10,99.15 564.25,97.68 564.40,98.30 564.55,99.40 564.70,100.40 564.85,100.65 565.00,99.45 565.15,100.08 565.30,101.18 565.45,98.02 565.60,99.02 565.75,101.09 565.90,95.67 566.05,97.25 566.20,99.27 566.35,95.30 566.50,98.11 566.65,99.87 566.80,99.49 566.95,95.81 567.10,96.54 567.25,94.44 567.40,98.87 567.55,92.31 567.70,95.97 567.85,98.07 568.00,94.72 568.15,95.03 568.30,94.40 568.45,92.47 568.60,89.99 568.75,91.09 568.90,89.98 569.05,91.94 569.20,91.77 569.35,89.67 569.50,92.38 569.65,85.92 569.80,86.76 569.95,85.65 569.90,83.60 570.05,87.56 570.10,87.18 570.25,85.36 570.40,91.58 570.55,84.51 570.70,84.02 570.85,85.17 571.00,84.87 571.15,86.09 571.30,86.06 571.45,86.55 571.60,88.44 571.75,84.50 571.90,82.62 572.05,87.28 572.00,82.50 572.15,90.88 572.20,90.63 572.35,86.19 572.50,81.69 572.65,96.53 572.80,94.03 572.95,91.27 573.10,94.89 573.25,93.31 573.40,90.64 573.55,95.42 573.70,92.97 573.85,97.50 574.00,95.22 574.15,95.58 574.30,93.63 574.45,93.71 574.60,97.67 574.75,98.01 574.90,94.57 575.05,96.36 575.20,100.09 575.35,100.85 575.50,98.68 575.65,98.15 575.80,97.31 575.95,100.38 576.10,97.89 576.25,98.04 576.40,100.69 576.55,96.24 576.70,84.41 576.85,74.08 577.00,64.98 577.15,58.70 577.30,53.16 577.45,54.27 577.60,53.04 577.75,51.66 577.90,51.72 578.05,52.04 578.20,57.15 578.35,56.33 578.50,54.00 578.65,54.48 578.80,57.68 578.95,61.04 579.10,64.44 579.25,55.27 579.40,59.95 579.55,58.30 579.70,60.43 579.85,53.81 580.00,58.12 580.15,57.77 580.30,58.96 580.45,52.51 580.60,55.90 580.75,56.46 580.90,59.76 581.05,53.90 581.20,51.69 581.35,57.38 581.50,59.22 581.65,60.03 581.80,58.66 581.95,55.00 582.10,56.20 582.25,62.56 582.40,62.46 582.55,54.92 582.70,56.52 582.85,61.97 583.00,57.13 583.15,55.54 583.30,56.20 583.45,57.57 583.60,59.28 583.75,55.99 583.90,54.62 584.05,59.93 584.20,58.29 584.35,60.75 584.50,62.55 584.65,56.28 584.80,61.10 584.95,50.29 585.10,59.15 585.25,53.31 585.40,56.41 585.55,57.94 585.70,57.65 585.85,51.75 586.00,55.17 586.15,55.68 586.30,59.47 586.45,59.08 586.60,54.21 586.75,52.84 586.90,59.52 587.05,54.70 587.20,62.11 587.35,56.27 587.50,57.03 587.65,61.61 587.80,62.69 587.95,60.41 588.10,55.97 588.25,55.65 588.40,55.28 588.55,64.55 588.40,48.70 588.55,58.21 588.70,58.24 588.85,52.98 589.00,57.08 589.15,53.32 589.30,56.02 589.45,60.46 589.60,52.46 589.75,51.58 589.90,60.41 590.05,54.68 590.20,52.67 590.35,55.91 590.50,56.67 590.65,57.09 590.80,57.16 590.95,53.94 591.10,59.92 591.25,58.02 591.40,57.76 591.55,60.75 591.70,52.83 591.85,58.61 592.00,58.85 592.15,60.96 592.10,48.70 592.25,55.10 592.30,60.01 592.45,58.05 592.60,60.60 592.75,65.31 592.90,68.08 593.05,66.29 593.20,66.57 593.35,62.62 593.50,63.60 593.65,65.70 593.80,67.40 593.95,72.15 594.10,72.71 594.25,73.89 594.40,74.46 594.55,78.94 594.70,78.65 594.85,82.49 595.00,82.42 595.15,84.79 595.30,87.15 595.45,88.33 595.60,90.00 595.75,90.10 595.90,92.46 596.05,93.01 596.20,95.38 596.35,97.16 596.50,96.47 596.65,98.36 596.80,99.65 596.95,100.99 597.10,101.43 597.25,101.38 597.40,103.65 597.55,101.70 597.70,103.05 597.85,103.64 598.00,101.54 598.15,100.60 598.30,100.78 598.45,102.03 598.60,103.69 598.75,100.98 598.90,103.91 599.05,100.66 599.20,101.89 599.35,101.24 599.50,101.66 599.65,102.50 599.60,95.00 599.75,101.81 599.80,102.05 599.95,101.57 600.10,99.73 600.25,102.57 600.40,103.09 600.55,101.03 600.70,102.04 600.85,100.34 601.00,103.05 601.15,101.28 601.30,103.93 601.45,101.07 601.60,101.32 601.75,104.76 601.90,104.60 602.05,101.19 602.20,103.66 602.35,100.88 602.50,104.03 602.65,104.03 602.80,101.46 602.95,100.67 603.10,104.38 603.25,102.21 603.40,103.22 603.55,103.01 603.70,103.34 603.85,101.68 604.00,102.24 604.15,104.16 604.30,99.97 604.45,103.71 604.60,100.16 604.75,103.24 604.90,100.51 605.05,101.57 605.20,100.57 605.35,102.03 605.50,102.70 605.65,102.06 605.80,100.86 605.95,103.67 606.10,100.91 606.25,103.92 606.40,101.46 606.55,100.88 606.70,100.30 606.85,101.11 607.00,104.35 607.15,101.88 607.30,103.19 607.45,104.08 607.60,104.04 607.75,104.15 607.90,100.98 608.05,102.31 608.20,101.33 608.35,103.91 608.50,102.96 608.65,101.27 608.80,100.25 608.95,102.46 609.10,102.80 609.25,102.00 609.40,102.24 609.55,102.93 609.40,79.40 609.55,101.02 609.70,100.72 609.85,101.77 610.00,102.74 610.15,101.51 610.30,101.20 610.45,104.13 610.60,100.87 610.75,101.54 610.90,101.48 611.05,102.64 611.20,104.14 611.35,100.45 611.50,103.24 611.65,104.00 611.80,101.63 611.95,103.52 612.10,104.10 612.25,103.88 612.40,102.39 612.55,102.76 612.70,102.58 612.85,101.96 613.00,102.73 613.15,101.77 613.30,101.59 613.45,101.15 613.60,101.79 613.50,85.00 613.65,102.30 613.75,103.63 613.90,100.42 614.05,102.59 614.20,100.89 614.35,101.89 614.50,103.66 614.40,93.00 614.55,103.61 614.65,100.33 614.80,103.93 614.95,100.93 615.10,102.22 615.25,103.34 615.40,100.86 615.55,103.71 615.70,102.36 615.85,100.10 616.00,102.40 616.15,100.78 616.30,103.99 616.45,104.14 616.60,103.63 616.75,101.77 616.90,102.89 617.05,104.76 617.20,101.51 617.35,102.69 617.50,101.34 617.65,103.29 617.80,102.25 617.95,102.69 618.10,101.33 618.00,97.00 618.15,101.95 618.25,104.03 618.40,103.37 618.55,103.79 618.70,99.17 618.85,103.44 619.00,100.78 619.15,101.29 619.30,103.33 619.45,100.62 619.60,103.02 619.75,101.38 619.90,102.93 620.05,102.11 620.20,102.89 620.35,102.44 620.50,102.35 620.65,103.29 620.80,100.64 620.95,103.38 621.10,103.09 621.25,101.73 621.40,100.93 621.55,104.02 621.70,103.04 621.85,100.78 622.00,100.95 622.15,102.85 622.30,101.82 622.45,102.85 622.60,101.94 622.50,86.00 622.65,102.57 622.75,101.71 622.90,102.38 623.05,101.20 623.20,103.20 623.35,102.02 623.50,100.41 623.65,101.45 623.80,100.19 623.95,99.73 624.10,102.31 624.25,101.65 624.40,103.03 624.55,100.08 624.70,102.62 624.85,102.08 625.00,100.56 625.15,101.62 625.30,101.55 625.45,102.95 625.60,101.86 625.75,101.75 625.90,100.55 626.05,103.95 626.20,104.44 626.35,104.09 626.50,101.49 626.65,101.83 626.80,101.72 626.95,104.57 627.10,102.69 627.25,101.91 627.40,103.49 627.55,104.19 627.70,103.76 627.85,101.68 628.00,100.64 628.15,100.91 628.30,102.38 628.45,103.64 628.60,102.63 628.50,95.00 628.65,101.80 628.75,101.29 628.90,100.86 629.05,102.95 629.20,105.53 629.35,102.75 629.50,102.76 629.65,103.40 629.80,101.76 629.95,101.14 630.10,103.16 630.25,102.05 630.40,101.44 630.55,103.96 630.70,101.64 630.85,100.79 631.00,103.76 631.15,101.13 631.30,104.11 631.45,100.92 631.60,101.98 631.75,101.76 631.90,101.47 632.05,104.05 632.20,102.93 632.35,101.99 632.50,101.87 632.65,103.52 632.80,100.00 632.95,101.67 633.10,101.70 633.25,99.83 633.40,102.29 633.55,100.85 633.70,103.35 633.85,100.89 634.00,103.57 634.15,99.28 634.30,97.99 634.45,88.38 634.60,80.59 634.75,72.71 634.90,66.55 635.05,62.61 635.20,56.79 635.35,55.45 635.50,54.11 635.65,52.65 635.80,55.02 635.95,55.23 636.10,54.83 636.25,58.03 636.40,57.56 636.55,55.12 636.70,57.49 636.85,54.71 637.00,56.92 637.15,57.07 637.30,54.76 637.45,58.09 637.60,54.29 637.75,57.71 637.90,55.27 638.05,58.16 638.20,56.78 638.35,57.75 638.50,55.01 638.65,59.05 638.80,55.61 638.95,54.74 639.10,57.65 639.25,57.70 639.40,59.95 639.55,57.21 639.70,57.43 639.85,57.79 640.00,57.79 640.15,57.71 640.30,56.93 640.45,57.93 640.60,59.94 640.75,61.09 640.90,60.23 641.05,60.87 641.20,63.39 641.35,57.23 641.50,60.72 641.65,61.09 641.80,60.01 641.95,57.48 642.10,58.64 642.25,59.35 642.40,62.29 642.55,60.09 642.70,62.58 642.85,60.22 643.00,58.16 643.15,62.66 643.00,57.40 643.15,62.71 643.30,58.42 643.45,61.43 643.60,58.62 643.75,59.07 643.90,58.63 644.05,59.23 644.20,63.10 644.35,62.14 644.50,61.56 644.65,58.06 644.80,61.98 644.95,59.95 645.10,65.02 645.25,64.04 645.40,65.21 645.55,65.43 645.70,63.97 645.85,64.77 646.00,65.43 646.15,66.73 646.30,61.71 646.45,67.10 646.60,63.40 646.75,67.12 646.90,62.64 647.05,66.82 647.20,67.53 647.35,62.13 647.50,65.71 647.40,57.40 647.55,63.22 647.65,62.23 647.80,66.82 647.95,67.03 648.10,67.13 648.25,64.55 648.40,64.75 648.55,62.66 648.70,64.09 648.85,63.76 649.00,69.08 649.15,68.41 649.30,67.47 649.45,67.80 649.60,67.46 649.75,69.42 649.90,69.75 650.05,70.88 650.20,75.72 650.35,79.14 650.50,82.70 650.65,86.42 650.80,89.06 650.95,92.56 651.10,96.86 651.25,99.93 651.40,101.34 651.55,100.77 651.70,101.65 651.85,100.48 652.00,100.97 652.15,99.71 652.30,101.21 652.45,101.73 652.60,100.55 652.75,99.75 652.90,101.09 653.05,99.81 653.00,87.00 653.15,101.10 653.20,99.67 653.35,99.97 653.50,103.00 653.65,100.45 653.80,102.73 653.95,102.61 654.10,102.68 654.25,102.83 654.40,100.91 654.55,100.48 654.70,103.96 654.85,101.39 655.00,103.30 655.15,103.86 655.30,101.99 655.45,101.30 655.60,103.91 655.75,102.58 655.70,84.70 655.85,103.35 655.90,102.10 656.05,104.09 656.20,102.90 656.35,103.16 656.50,103.28 656.65,103.18 656.80,102.48 656.95,103.96 657.10,100.78 657.25,98.15 657.40,102.38 657.55,100.53 657.70,101.89 657.85,102.48 658.00,103.32 658.15,101.39 658.00,91.00 658.15,102.80 658.30,100.48 658.45,101.46 658.60,101.64 658.75,101.91 658.90,103.50 659.05,101.37 659.20,103.51 659.35,103.82 659.50,103.84 659.65,103.05 659.80,103.10 659.95,102.46 660.10,102.63 660.25,102.13 660.40,103.54 660.55,103.55 660.50,88.00 660.65,103.65 660.70,101.78 660.85,103.07 661.00,102.23 661.15,101.99 661.30,101.44 661.45,103.99 661.60,102.28 661.75,102.21 661.90,100.82 662.05,102.53 662.20,103.63 662.35,104.02 662.50,102.40 662.65,101.88 662.80,101.03 662.95,100.67 663.10,102.84 663.25,103.36 663.40,100.21 663.55,100.33 663.70,102.70 663.85,100.89 663.80,79.30 663.95,102.64 664.00,102.75 664.15,104.02 664.30,102.93 664.45,102.50 664.60,102.28 664.75,104.50 664.90,102.45 665.05,104.32 665.20,104.22 665.35,102.04 665.50,100.86 665.65,101.20 665.80,103.65 665.95,103.05 666.10,104.55 666.25,103.85 666.40,104.55 666.55,103.24 666.70,103.56 666.60,92.30 666.75,101.83 666.85,103.05 667.00,101.76 667.15,101.17 667.30,100.19 667.45,103.12 667.60,101.46 667.75,103.33 667.90,101.13 668.05,103.69 668.20,101.37 668.35,100.78 668.50,103.49 668.65,101.22 668.80,102.40 668.95,100.84 669.10,102.32 669.25,102.09 669.40,102.02 669.55,104.37 669.70,102.79 669.85,102.58 669.70,92.30 669.85,103.09 670.00,102.86 670.15,103.08 670.30,102.93 670.45,101.43 670.60,102.58 670.75,102.44 670.90,102.08 671.05,101.74 671.20,104.31 671.35,103.07 671.50,101.92 671.65,102.89 671.80,101.67 671.95,102.83 672.10,101.29 672.25,100.65 672.40,102.40 672.55,103.94 672.70,101.33 672.85,103.56 673.00,102.60 673.15,103.69 673.30,102.72 673.45,102.48 673.60,102.81 673.75,100.53 673.60,93.40 673.75,102.03 673.90,100.89 674.05,103.10 674.20,103.53 674.35,103.78 674.50,103.97 674.65,101.82 674.80,101.98 674.95,103.50 675.10,103.39 675.25,104.97 675.40,103.21 675.55,102.05 675.70,102.94 675.85,101.76 676.00,103.56 676.15,104.13 676.30,101.08 676.45,101.99 676.60,103.00 676.75,101.58 676.90,103.15 677.05,103.47 676.90,92.30 677.05,101.67 677.20,102.58 677.35,100.56 677.50,103.26 677.65,100.94 677.80,103.34 677.95,101.25 678.10,101.29 678.25,102.05 678.40,103.36 678.55,102.53 678.70,103.61 678.85,101.52 679.00,103.05 679.15,102.33 679.30,102.49 679.45,104.93 679.60,104.54 679.75,104.75 679.90,101.48 680.05,103.93 680.20,102.51 680.35,101.70 680.50,101.86 680.65,101.29 680.80,102.75 680.95,102.33 681.10,102.20 681.25,102.63 681.40,104.09 681.30,89.00 681.45,101.89 681.55,103.10 681.70,103.51 681.85,104.00 682.00,103.13 682.15,102.22 682.30,103.19 682.45,103.07 682.60,103.50 682.75,100.09 682.90,100.53 683.05,103.40 683.20,102.70 683.35,99.09 683.50,104.11 683.40,87.00 683.55,102.32 683.65,101.27 683.80,101.75 683.95,101.19 684.10,102.43 684.25,102.10 684.40,103.34" fill="none" stroke="#0000f0" stroke-width="1.2" stroke-linejoin="round"/>
<g stroke="#000" stroke-width="1.8">
<line x1="190" y1="112" x2="235.5" y2="112"/>
<line x1="413.5" y1="93.4" x2="459.2" y2="93.4"/>
<line x1="638.6" y1="111.6" x2="684" y2="111.6"/>
</g>
<g font-size="12.8" text-anchor="middle">
<text x="213.3" y="125.4">30 s</text>
<text x="436.2" y="107">30 s</text>
<text x="662" y="125.7">30 s</text>
</g>
<g font-size="12.3">
<g stroke="#000" stroke-width="1.3" fill="none"><line x1="58.7" y1="155.8" x2="58.7" y2="276.3" />
<line x1="54.300000000000004" y1="276.30" x2="58.7" y2="276.30" />
<line x1="56.300000000000004" y1="264.31" x2="58.7" y2="264.31" />
<line x1="54.300000000000004" y1="252.32" x2="58.7" y2="252.32" />
<line x1="56.300000000000004" y1="240.33" x2="58.7" y2="240.33" />
<line x1="54.300000000000004" y1="228.34" x2="58.7" y2="228.34" />
<line x1="56.300000000000004" y1="216.35" x2="58.7" y2="216.35" />
<line x1="54.300000000000004" y1="204.36" x2="58.7" y2="204.36" />
<line x1="56.300000000000004" y1="192.37" x2="58.7" y2="192.37" />
<line x1="54.300000000000004" y1="180.38" x2="58.7" y2="180.38" />
<line x1="56.300000000000004" y1="168.39" x2="58.7" y2="168.39" />
<line x1="54.300000000000004" y1="156.40" x2="58.7" y2="156.40" />
<line x1="58.1" y1="276.3" x2="131.10000000000002" y2="276.3" /></g>
<circle cx="70.3" cy="176.5" r="2.6" fill="rgba(0,0,0,0.42)"/>
<circle cx="64.1" cy="181.2" r="2.6" fill="rgba(0,0,0,0.42)"/>
<circle cx="72.7" cy="181.6" r="2.6" fill="rgba(0,0,0,0.42)"/>
<circle cx="76.8" cy="185.9" r="2.6" fill="rgba(0,0,0,0.42)"/>
<circle cx="70.3" cy="185.0" r="2.6" fill="rgba(0,0,0,0.42)"/>
<circle cx="66.0" cy="189.0" r="2.6" fill="rgba(0,0,0,0.42)"/>
<circle cx="74.0" cy="191.0" r="2.6" fill="rgba(0,0,0,0.42)"/>
<circle cx="71.2" cy="196.2" r="2.6" fill="rgba(0,0,0,0.42)"/>
<circle cx="71.2" cy="204.2" r="2.6" fill="rgba(0,0,0,0.42)"/>
<circle cx="70.3" cy="204.6" r="2.6" fill="rgba(0,0,0,0.42)"/>
<circle cx="68.8" cy="212.4" r="2.6" fill="rgba(0,0,0,0.42)"/>
<circle cx="90.5" cy="210.5" r="2.6" fill="rgba(240,20,40,0.45)"/>
<circle cx="93.3" cy="209.5" r="2.6" fill="rgba(240,20,40,0.45)"/>
<circle cx="95.4" cy="209.5" r="2.6" fill="rgba(240,20,40,0.45)"/>
<circle cx="98.0" cy="215.4" r="2.6" fill="rgba(240,20,40,0.45)"/>
<circle cx="88.4" cy="224.5" r="2.6" fill="rgba(240,20,40,0.45)"/>
<circle cx="98.2" cy="223.1" r="2.6" fill="rgba(240,20,40,0.45)"/>
<circle cx="93.3" cy="233.0" r="2.6" fill="rgba(240,20,40,0.45)"/>
<circle cx="95.4" cy="234.4" r="2.6" fill="rgba(240,20,40,0.45)"/>
<circle cx="91.0" cy="220.0" r="2.6" fill="rgba(240,20,40,0.45)"/>
<circle cx="97.0" cy="219.0" r="2.6" fill="rgba(240,20,40,0.45)"/>
<circle cx="118.6" cy="176.5" r="2.6" fill="rgba(20,20,235,0.48)"/>
<circle cx="112.7" cy="185.0" r="2.6" fill="rgba(20,20,235,0.48)"/>
<circle cx="113.6" cy="193.0" r="2.6" fill="rgba(20,20,235,0.48)"/>
<circle cx="122.0" cy="203.4" r="2.6" fill="rgba(20,20,235,0.48)"/>
<circle cx="124.5" cy="188.7" r="2.6" fill="rgba(20,20,235,0.48)"/>
<circle cx="117.0" cy="191.0" r="2.6" fill="rgba(20,20,235,0.48)"/>
<line x1="62.30" y1="189.80" x2="78.90" y2="189.80" stroke="#000" stroke-width="2.5"/>
<line x1="70.60" y1="186.80" x2="70.60" y2="193.60" stroke="#000" stroke-width="2.0"/>
<line x1="66.90" y1="186.80" x2="74.30" y2="186.80" stroke="#000" stroke-width="2.0"/>
<line x1="66.90" y1="193.60" x2="74.30" y2="193.60" stroke="#000" stroke-width="2.0"/>
<line x1="86.20" y1="220.80" x2="102.80" y2="220.80" stroke="#f00000" stroke-width="2.5"/>
<line x1="94.50" y1="218.20" x2="94.50" y2="223.60" stroke="#f00000" stroke-width="2.0"/>
<line x1="90.80" y1="218.20" x2="98.20" y2="218.20" stroke="#f00000" stroke-width="2.0"/>
<line x1="90.80" y1="223.60" x2="98.20" y2="223.60" stroke="#f00000" stroke-width="2.0"/>
<line x1="110.30" y1="190.20" x2="126.90" y2="190.20" stroke="#0000e6" stroke-width="2.5"/>
<line x1="118.60" y1="187.50" x2="118.60" y2="193.50" stroke="#0000e6" stroke-width="2.0"/>
<line x1="114.90" y1="187.50" x2="122.30" y2="187.50" stroke="#0000e6" stroke-width="2.0"/>
<line x1="114.90" y1="193.50" x2="122.30" y2="193.50" stroke="#0000e6" stroke-width="2.0"/>
<text x="50.7" y="280.70" text-anchor="end" font-size="12.5">0</text>
<text x="50.7" y="256.72" text-anchor="end" font-size="12.5">−20</text>
<text x="50.7" y="232.74" text-anchor="end" font-size="12.5">−40</text>
<text x="50.7" y="208.76" text-anchor="end" font-size="12.5">−60</text>
<text x="50.7" y="184.78" text-anchor="end" font-size="12.5">−80</text>
<text x="50.7" y="160.80" text-anchor="end" font-size="12.5">−100</text>
<text x="0" y="0" text-anchor="end" font-size="12.8" transform="translate(76.60,288.3) rotate(-45)">WT</text>
<text x="0" y="0" text-anchor="end" font-size="12.8" font-style="italic" transform="translate(100.70,288.3) rotate(-45)">slo-2</text>
<text x="0" y="0" text-anchor="end" font-size="12.8" transform="translate(124.80,288.3) rotate(-45)">Rescue</text>
<g stroke="#000" stroke-width="1.3" fill="none"><line x1="198.9" y1="155.8" x2="198.9" y2="276.3" />
<line x1="194.5" y1="276.30" x2="198.9" y2="276.30" />
<line x1="196.5" y1="264.31" x2="198.9" y2="264.31" />
<line x1="194.5" y1="252.32" x2="198.9" y2="252.32" />
<line x1="196.5" y1="240.33" x2="198.9" y2="240.33" />
<line x1="194.5" y1="228.34" x2="198.9" y2="228.34" />
<line x1="196.5" y1="216.35" x2="198.9" y2="216.35" />
<line x1="194.5" y1="204.36" x2="198.9" y2="204.36" />
<line x1="196.5" y1="192.37" x2="198.9" y2="192.37" />
<line x1="194.5" y1="180.38" x2="198.9" y2="180.38" />
<line x1="196.5" y1="168.39" x2="198.9" y2="168.39" />
<line x1="194.5" y1="156.40" x2="198.9" y2="156.40" />
<line x1="198.3" y1="276.3" x2="271.3" y2="276.3" /></g>
<circle cx="206.5" cy="185.3" r="2.6" fill="rgba(0,0,0,0.42)"/>
<circle cx="212.0" cy="183.5" r="2.6" fill="rgba(0,0,0,0.42)"/>
<circle cx="215.3" cy="186.4" r="2.6" fill="rgba(0,0,0,0.42)"/>
<circle cx="208.7" cy="189.6" r="2.6" fill="rgba(0,0,0,0.42)"/>
<circle cx="216.4" cy="198.3" r="2.6" fill="rgba(0,0,0,0.42)"/>
<circle cx="210.9" cy="212.5" r="2.6" fill="rgba(0,0,0,0.42)"/>
<circle cx="210.5" cy="221.2" r="2.6" fill="rgba(0,0,0,0.42)"/>
<circle cx="206.0" cy="196.0" r="2.6" fill="rgba(0,0,0,0.42)"/>
<circle cx="213.0" cy="194.0" r="2.6" fill="rgba(0,0,0,0.42)"/>
<circle cx="236.1" cy="233.1" r="2.6" fill="rgba(240,20,40,0.45)"/>
<circle cx="229.1" cy="237.9" r="2.6" fill="rgba(240,20,40,0.45)"/>
<circle cx="232.3" cy="238.3" r="2.6" fill="rgba(240,20,40,0.45)"/>
<circle cx="240.1" cy="239.3" r="2.6" fill="rgba(240,20,40,0.45)"/>
<circle cx="229.8" cy="247.7" r="2.6" fill="rgba(240,20,40,0.45)"/>
<circle cx="230.5" cy="255.2" r="2.6" fill="rgba(240,20,40,0.45)"/>
<circle cx="234.0" cy="253.0" r="2.6" fill="rgba(240,20,40,0.45)"/>
<circle cx="238.0" cy="254.2" r="2.6" fill="rgba(240,20,40,0.45)"/>
<circle cx="238.0" cy="246.0" r="2.6" fill="rgba(240,20,40,0.45)"/>
<circle cx="258.4" cy="172.2" r="2.6" fill="rgba(20,20,235,0.48)"/>
<circle cx="253.4" cy="194.0" r="2.6" fill="rgba(20,20,235,0.48)"/>
<circle cx="263.2" cy="192.9" r="2.6" fill="rgba(20,20,235,0.48)"/>
<circle cx="256.3" cy="226.7" r="2.6" fill="rgba(20,20,235,0.48)"/>
<circle cx="261.1" cy="227.8" r="2.6" fill="rgba(20,20,235,0.48)"/>
<circle cx="258.5" cy="204.0" r="2.6" fill="rgba(20,20,235,0.48)"/>
<line x1="202.50" y1="196.20" x2="219.10" y2="196.20" stroke="#000" stroke-width="2.5"/>
<line x1="210.80" y1="192.50" x2="210.80" y2="199.90" stroke="#000" stroke-width="2.0"/>
<line x1="207.10" y1="192.50" x2="214.50" y2="192.50" stroke="#000" stroke-width="2.0"/>
<line x1="207.10" y1="199.90" x2="214.50" y2="199.90" stroke="#000" stroke-width="2.0"/>
<line x1="226.50" y1="245.10" x2="243.10" y2="245.10" stroke="#f00000" stroke-width="2.5"/>
<line x1="234.80" y1="242.50" x2="234.80" y2="247.70" stroke="#f00000" stroke-width="2.0"/>
<line x1="231.10" y1="242.50" x2="238.50" y2="242.50" stroke="#f00000" stroke-width="2.0"/>
<line x1="231.10" y1="247.70" x2="238.50" y2="247.70" stroke="#f00000" stroke-width="2.0"/>
<line x1="250.30" y1="204.20" x2="266.90" y2="204.20" stroke="#0000e6" stroke-width="2.5"/>
<line x1="258.60" y1="197.90" x2="258.60" y2="210.30" stroke="#0000e6" stroke-width="2.0"/>
<line x1="254.90" y1="197.90" x2="262.30" y2="197.90" stroke="#0000e6" stroke-width="2.0"/>
<line x1="254.90" y1="210.30" x2="262.30" y2="210.30" stroke="#0000e6" stroke-width="2.0"/>
<text x="190.9" y="280.70" text-anchor="end" font-size="12.5">0</text>
<text x="190.9" y="256.72" text-anchor="end" font-size="12.5">10</text>
<text x="190.9" y="232.74" text-anchor="end" font-size="12.5">20</text>
<text x="190.9" y="208.76" text-anchor="end" font-size="12.5">30</text>
<text x="190.9" y="184.78" text-anchor="end" font-size="12.5">40</text>
<text x="190.9" y="160.80" text-anchor="end" font-size="12.5">50</text>
<text x="0" y="0" text-anchor="end" font-size="12.8" transform="translate(216.80,288.3) rotate(-45)">WT</text>
<text x="0" y="0" text-anchor="end" font-size="12.8" font-style="italic" transform="translate(240.90,288.3) rotate(-45)">slo-2</text>
<text x="0" y="0" text-anchor="end" font-size="12.8" transform="translate(265.00,288.3) rotate(-45)">Rescue</text>
<g stroke="#000" stroke-width="1.3" fill="none"><line x1="341.1" y1="155.8" x2="341.1" y2="276.3" />
<line x1="336.70000000000005" y1="276.30" x2="341.1" y2="276.30" />
<line x1="338.70000000000005" y1="264.31" x2="341.1" y2="264.31" />
<line x1="336.70000000000005" y1="252.32" x2="341.1" y2="252.32" />
<line x1="338.70000000000005" y1="240.33" x2="341.1" y2="240.33" />
<line x1="336.70000000000005" y1="228.34" x2="341.1" y2="228.34" />
<line x1="338.70000000000005" y1="216.35" x2="341.1" y2="216.35" />
<line x1="336.70000000000005" y1="204.36" x2="341.1" y2="204.36" />
<line x1="338.70000000000005" y1="192.37" x2="341.1" y2="192.37" />
<line x1="336.70000000000005" y1="180.38" x2="341.1" y2="180.38" />
<line x1="338.70000000000005" y1="168.39" x2="341.1" y2="168.39" />
<line x1="336.70000000000005" y1="156.40" x2="341.1" y2="156.40" />
<line x1="340.5" y1="276.3" x2="413.5" y2="276.3" /></g>
<circle cx="352.9" cy="162.6" r="2.6" fill="rgba(0,0,0,0.42)"/>
<circle cx="348.1" cy="173.5" r="2.6" fill="rgba(0,0,0,0.42)"/>
<circle cx="357.7" cy="176.4" r="2.6" fill="rgba(0,0,0,0.42)"/>
<circle cx="352.9" cy="179.4" r="2.6" fill="rgba(0,0,0,0.42)"/>
<circle cx="356.2" cy="192.5" r="2.6" fill="rgba(0,0,0,0.42)"/>
<circle cx="350.7" cy="197.5" r="2.6" fill="rgba(0,0,0,0.42)"/>
<circle cx="350.3" cy="204.7" r="2.6" fill="rgba(0,0,0,0.42)"/>
<circle cx="355.1" cy="208.4" r="2.6" fill="rgba(0,0,0,0.42)"/>
<circle cx="352.9" cy="218.2" r="2.6" fill="rgba(0,0,0,0.42)"/>
<circle cx="348.0" cy="188.0" r="2.6" fill="rgba(0,0,0,0.42)"/>
<circle cx="376.9" cy="167.0" r="2.6" fill="rgba(240,20,40,0.45)"/>
<circle cx="371.4" cy="171.4" r="2.6" fill="rgba(240,20,40,0.45)"/>
<circle cx="376.9" cy="173.5" r="2.6" fill="rgba(240,20,40,0.45)"/>
<circle cx="381.7" cy="177.2" r="2.6" fill="rgba(240,20,40,0.45)"/>
<circle cx="374.7" cy="207.3" r="2.6" fill="rgba(240,20,40,0.45)"/>
<circle cx="379.5" cy="206.2" r="2.6" fill="rgba(240,20,40,0.45)"/>
<circle cx="374.0" cy="227.7" r="2.6" fill="rgba(240,20,40,0.45)"/>
<circle cx="379.0" cy="226.3" r="2.6" fill="rgba(240,20,40,0.45)"/>
<circle cx="400.4" cy="162.6" r="2.6" fill="rgba(20,20,235,0.48)"/>
<circle cx="395.4" cy="172.9" r="2.6" fill="rgba(20,20,235,0.48)"/>
<circle cx="400.4" cy="169.8" r="2.6" fill="rgba(20,20,235,0.48)"/>
<circle cx="405.7" cy="180.1" r="2.6" fill="rgba(20,20,235,0.48)"/>
<circle cx="400.4" cy="198.2" r="2.6" fill="rgba(20,20,235,0.48)"/>
<circle cx="400.4" cy="214.3" r="2.6" fill="rgba(20,20,235,0.48)"/>
<circle cx="397.0" cy="178.0" r="2.6" fill="rgba(20,20,235,0.48)"/>
<line x1="344.70" y1="189.90" x2="361.30" y2="189.90" stroke="#000" stroke-width="2.5"/>
<line x1="353.00" y1="184.40" x2="353.00" y2="194.30" stroke="#000" stroke-width="2.0"/>
<line x1="349.30" y1="184.40" x2="356.70" y2="184.40" stroke="#000" stroke-width="2.0"/>
<line x1="349.30" y1="194.30" x2="356.70" y2="194.30" stroke="#000" stroke-width="2.0"/>
<line x1="368.70" y1="194.90" x2="385.30" y2="194.90" stroke="#f00000" stroke-width="2.5"/>
<line x1="377.00" y1="187.70" x2="377.00" y2="202.50" stroke="#f00000" stroke-width="2.0"/>
<line x1="373.30" y1="187.70" x2="380.70" y2="187.70" stroke="#f00000" stroke-width="2.0"/>
<line x1="373.30" y1="202.50" x2="380.70" y2="202.50" stroke="#f00000" stroke-width="2.0"/>
<line x1="392.50" y1="182.70" x2="409.10" y2="182.70" stroke="#0000e6" stroke-width="2.5"/>
<line x1="400.80" y1="176.80" x2="400.80" y2="188.80" stroke="#0000e6" stroke-width="2.0"/>
<line x1="397.10" y1="176.80" x2="404.50" y2="176.80" stroke="#0000e6" stroke-width="2.0"/>
<line x1="397.10" y1="188.80" x2="404.50" y2="188.80" stroke="#0000e6" stroke-width="2.0"/>
<text x="333.1" y="280.70" text-anchor="end" font-size="12.5">0</text>
<text x="333.1" y="256.72" text-anchor="end" font-size="12.5">−10</text>
<text x="333.1" y="232.74" text-anchor="end" font-size="12.5">−20</text>
<text x="333.1" y="208.76" text-anchor="end" font-size="12.5">−30</text>
<text x="333.1" y="184.78" text-anchor="end" font-size="12.5">−40</text>
<text x="333.1" y="160.80" text-anchor="end" font-size="12.5">−50</text>
<text x="0" y="0" text-anchor="end" font-size="12.8" transform="translate(359.00,288.3) rotate(-45)">WT</text>
<text x="0" y="0" text-anchor="end" font-size="12.8" font-style="italic" transform="translate(383.10,288.3) rotate(-45)">slo-2</text>
<text x="0" y="0" text-anchor="end" font-size="12.8" transform="translate(407.20,288.3) rotate(-45)">Rescue</text>
<g stroke="#000" stroke-width="1.3" fill="none"><line x1="476.5" y1="155.8" x2="476.5" y2="276.3" />
<line x1="472.1" y1="276.30" x2="476.5" y2="276.30" />
<line x1="474.1" y1="261.31" x2="476.5" y2="261.31" />
<line x1="472.1" y1="246.33" x2="476.5" y2="246.33" />
<line x1="474.1" y1="231.34" x2="476.5" y2="231.34" />
<line x1="472.1" y1="216.35" x2="476.5" y2="216.35" />
<line x1="474.1" y1="201.36" x2="476.5" y2="201.36" />
<line x1="472.1" y1="186.38" x2="476.5" y2="186.38" />
<line x1="474.1" y1="171.39" x2="476.5" y2="171.39" />
<line x1="472.1" y1="156.40" x2="476.5" y2="156.40" />
<line x1="475.9" y1="276.3" x2="548.9" y2="276.3" /></g>
<circle cx="488.4" cy="176.2" r="2.6" fill="rgba(0,0,0,0.42)"/>
<circle cx="486.8" cy="201.2" r="2.6" fill="rgba(0,0,0,0.42)"/>
<circle cx="489.6" cy="201.2" r="2.6" fill="rgba(0,0,0,0.42)"/>
<circle cx="493.4" cy="226.2" r="2.6" fill="rgba(0,0,0,0.42)"/>
<circle cx="481.8" cy="231.2" r="2.6" fill="rgba(0,0,0,0.42)"/>
<circle cx="485.3" cy="231.2" r="2.6" fill="rgba(0,0,0,0.42)"/>
<circle cx="491.2" cy="233.4" r="2.6" fill="rgba(0,0,0,0.42)"/>
<circle cx="485.3" cy="241.1" r="2.6" fill="rgba(0,0,0,0.42)"/>
<circle cx="488.3" cy="245.4" r="2.6" fill="rgba(0,0,0,0.42)"/>
<circle cx="512.3" cy="195.9" r="2.6" fill="rgba(240,20,40,0.45)"/>
<circle cx="508.6" cy="206.2" r="2.6" fill="rgba(240,20,40,0.45)"/>
<circle cx="511.9" cy="215.5" r="2.6" fill="rgba(240,20,40,0.45)"/>
<circle cx="515.8" cy="215.5" r="2.6" fill="rgba(240,20,40,0.45)"/>
<circle cx="509.7" cy="236.3" r="2.6" fill="rgba(240,20,40,0.45)"/>
<circle cx="517.3" cy="236.3" r="2.6" fill="rgba(240,20,40,0.45)"/>
<circle cx="507.1" cy="245.9" r="2.6" fill="rgba(240,20,40,0.45)"/>
<circle cx="514.1" cy="245.9" r="2.6" fill="rgba(240,20,40,0.45)"/>
<circle cx="512.0" cy="226.0" r="2.6" fill="rgba(240,20,40,0.45)"/>
<circle cx="535.9" cy="186.1" r="2.6" fill="rgba(20,20,235,0.48)"/>
<circle cx="535.9" cy="201.2" r="2.6" fill="rgba(20,20,235,0.48)"/>
<circle cx="540.2" cy="226.2" r="2.6" fill="rgba(20,20,235,0.48)"/>
<circle cx="531.1" cy="231.2" r="2.6" fill="rgba(20,20,235,0.48)"/>
<circle cx="536.3" cy="231.2" r="2.6" fill="rgba(20,20,235,0.48)"/>
<circle cx="534.1" cy="240.0" r="2.6" fill="rgba(20,20,235,0.48)"/>
<circle cx="538.5" cy="245.9" r="2.6" fill="rgba(20,20,235,0.48)"/>
<line x1="480.20" y1="221.90" x2="496.80" y2="221.90" stroke="#000" stroke-width="2.5"/>
<line x1="488.50" y1="215.50" x2="488.50" y2="228.00" stroke="#000" stroke-width="2.0"/>
<line x1="484.80" y1="215.50" x2="492.20" y2="215.50" stroke="#000" stroke-width="2.0"/>
<line x1="484.80" y1="228.00" x2="492.20" y2="228.00" stroke="#000" stroke-width="2.0"/>
<line x1="504.10" y1="225.40" x2="520.70" y2="225.40" stroke="#f00000" stroke-width="2.5"/>
<line x1="512.40" y1="220.80" x2="512.40" y2="230.80" stroke="#f00000" stroke-width="2.0"/>
<line x1="508.70" y1="220.80" x2="516.10" y2="220.80" stroke="#f00000" stroke-width="2.0"/>
<line x1="508.70" y1="230.80" x2="516.10" y2="230.80" stroke="#f00000" stroke-width="2.0"/>
<line x1="527.90" y1="222.50" x2="544.50" y2="222.50" stroke="#0000e6" stroke-width="2.5"/>
<line x1="536.20" y1="215.30" x2="536.20" y2="230.20" stroke="#0000e6" stroke-width="2.0"/>
<line x1="532.50" y1="215.30" x2="539.90" y2="215.30" stroke="#0000e6" stroke-width="2.0"/>
<line x1="532.50" y1="230.20" x2="539.90" y2="230.20" stroke="#0000e6" stroke-width="2.0"/>
<text x="468.5" y="280.70" text-anchor="end" font-size="12.5">0</text>
<text x="468.5" y="250.73" text-anchor="end" font-size="12.5">1</text>
<text x="468.5" y="220.75" text-anchor="end" font-size="12.5">2</text>
<text x="468.5" y="190.78" text-anchor="end" font-size="12.5">3</text>
<text x="468.5" y="160.80" text-anchor="end" font-size="12.5">4</text>
<text x="0" y="0" text-anchor="end" font-size="12.8" transform="translate(494.40,288.3) rotate(-45)">WT</text>
<text x="0" y="0" text-anchor="end" font-size="12.8" font-style="italic" transform="translate(518.50,288.3) rotate(-45)">slo-2</text>
<text x="0" y="0" text-anchor="end" font-size="12.8" transform="translate(542.60,288.3) rotate(-45)">Rescue</text>
<g stroke="#000" stroke-width="1.3" fill="none"><line x1="613.0" y1="155.8" x2="613.0" y2="276.3" />
<line x1="608.6" y1="276.30" x2="613.0" y2="276.30" />
<line x1="610.6" y1="264.31" x2="613.0" y2="264.31" />
<line x1="608.6" y1="252.32" x2="613.0" y2="252.32" />
<line x1="610.6" y1="240.33" x2="613.0" y2="240.33" />
<line x1="608.6" y1="228.34" x2="613.0" y2="228.34" />
<line x1="610.6" y1="216.35" x2="613.0" y2="216.35" />
<line x1="608.6" y1="204.36" x2="613.0" y2="204.36" />
<line x1="610.6" y1="192.37" x2="613.0" y2="192.37" />
<line x1="608.6" y1="180.38" x2="613.0" y2="180.38" />
<line x1="610.6" y1="168.39" x2="613.0" y2="168.39" />
<line x1="608.6" y1="156.40" x2="613.0" y2="156.40" />
<line x1="612.4" y1="276.3" x2="685.4" y2="276.3" /></g>
<circle cx="623.5" cy="222.9" r="2.6" fill="rgba(0,0,0,0.42)"/>
<circle cx="626.5" cy="221.8" r="2.6" fill="rgba(0,0,0,0.42)"/>
<circle cx="622.8" cy="232.7" r="2.6" fill="rgba(0,0,0,0.42)"/>
<circle cx="630.0" cy="233.8" r="2.6" fill="rgba(0,0,0,0.42)"/>
<circle cx="619.1" cy="245.8" r="2.6" fill="rgba(0,0,0,0.42)"/>
<circle cx="623.9" cy="245.8" r="2.6" fill="rgba(0,0,0,0.42)"/>
<circle cx="630.0" cy="251.2" r="2.6" fill="rgba(0,0,0,0.42)"/>
<circle cx="622.8" cy="252.3" r="2.6" fill="rgba(0,0,0,0.42)"/>
<circle cx="624.3" cy="257.8" r="2.6" fill="rgba(0,0,0,0.42)"/>
<circle cx="627.0" cy="238.0" r="2.6" fill="rgba(0,0,0,0.42)"/>
<circle cx="649.2" cy="182.5" r="2.6" fill="rgba(240,20,40,0.45)"/>
<circle cx="648.8" cy="198.8" r="2.6" fill="rgba(240,20,40,0.45)"/>
<circle cx="648.8" cy="215.5" r="2.6" fill="rgba(240,20,40,0.45)"/>
<circle cx="649.0" cy="214.8" r="2.6" fill="rgba(240,20,40,0.45)"/>
<circle cx="643.1" cy="237.1" r="2.6" fill="rgba(240,20,40,0.45)"/>
<circle cx="649.0" cy="234.9" r="2.6" fill="rgba(240,20,40,0.45)"/>
<circle cx="654.4" cy="233.8" r="2.6" fill="rgba(240,20,40,0.45)"/>
<circle cx="645.7" cy="240.3" r="2.6" fill="rgba(240,20,40,0.45)"/>
<circle cx="649.0" cy="245.8" r="2.6" fill="rgba(240,20,40,0.45)"/>
<circle cx="652.0" cy="228.0" r="2.6" fill="rgba(240,20,40,0.45)"/>
<circle cx="667.5" cy="232.3" r="2.6" fill="rgba(20,20,235,0.48)"/>
<circle cx="673.0" cy="233.8" r="2.6" fill="rgba(20,20,235,0.48)"/>
<circle cx="678.0" cy="234.5" r="2.6" fill="rgba(20,20,235,0.48)"/>
<circle cx="669.3" cy="251.2" r="2.6" fill="rgba(20,20,235,0.48)"/>
<circle cx="672.3" cy="253.4" r="2.6" fill="rgba(20,20,235,0.48)"/>
<circle cx="670.0" cy="240.0" r="2.6" fill="rgba(20,20,235,0.48)"/>
<circle cx="676.0" cy="242.0" r="2.6" fill="rgba(20,20,235,0.48)"/>
<line x1="616.70" y1="240.30" x2="633.30" y2="240.30" stroke="#000" stroke-width="2.5"/>
<line x1="625.00" y1="236.60" x2="625.00" y2="244.00" stroke="#000" stroke-width="2.0"/>
<line x1="621.30" y1="236.60" x2="628.70" y2="236.60" stroke="#000" stroke-width="2.0"/>
<line x1="621.30" y1="244.00" x2="628.70" y2="244.00" stroke="#000" stroke-width="2.0"/>
<line x1="640.70" y1="224.40" x2="657.30" y2="224.40" stroke="#f00000" stroke-width="2.5"/>
<line x1="649.00" y1="218.50" x2="649.00" y2="229.90" stroke="#f00000" stroke-width="2.0"/>
<line x1="645.30" y1="218.50" x2="652.70" y2="218.50" stroke="#f00000" stroke-width="2.0"/>
<line x1="645.30" y1="229.90" x2="652.70" y2="229.90" stroke="#f00000" stroke-width="2.0"/>
<line x1="664.70" y1="241.00" x2="681.30" y2="241.00" stroke="#0000e6" stroke-width="2.5"/>
<line x1="673.00" y1="238.20" x2="673.00" y2="244.70" stroke="#0000e6" stroke-width="2.0"/>
<line x1="669.30" y1="238.20" x2="676.70" y2="238.20" stroke="#0000e6" stroke-width="2.0"/>
<line x1="669.30" y1="244.70" x2="676.70" y2="244.70" stroke="#0000e6" stroke-width="2.0"/>
<text x="605.0" y="280.70" text-anchor="end" font-size="12.5">0</text>
<text x="605.0" y="256.72" text-anchor="end" font-size="12.5">10</text>
<text x="605.0" y="232.74" text-anchor="end" font-size="12.5">20</text>
<text x="605.0" y="208.76" text-anchor="end" font-size="12.5">30</text>
<text x="605.0" y="184.78" text-anchor="end" font-size="12.5">40</text>
<text x="605.0" y="160.80" text-anchor="end" font-size="12.5">50</text>
<text x="0" y="0" text-anchor="end" font-size="12.8" transform="translate(630.90,288.3) rotate(-45)">WT</text>
<text x="0" y="0" text-anchor="end" font-size="12.8" font-style="italic" transform="translate(655.00,288.3) rotate(-45)">slo-2</text>
<text x="0" y="0" text-anchor="end" font-size="12.8" transform="translate(679.10,288.3) rotate(-45)">Rescue</text>
</g>
<g font-size="12.7" text-anchor="middle">
<text transform="translate(12.6,215.4) rotate(-90)">RP (mV)</text>
<text transform="translate(163.5,216.3) rotate(-90)">US amp. (mV)</text>
<text transform="translate(300.8,214.9) rotate(-90)">US potent. (mV)</text>
<text transform="translate(451.4,216.2) rotate(-90)">US freq. per min</text>
<text transform="translate(580.6,212.7) rotate(-90)">US duration (s)</text>
</g>
<polyline points="70.5,167.5 70.5,159 95.2,159 95.2,184" fill="none" stroke="#000" stroke-width="1.3"/><path d="M83.10,152.50L83.10,149.80M83.10,152.50L85.67,151.67M83.10,152.50L84.69,154.68M83.10,152.50L81.51,154.68M83.10,152.50L80.53,151.67" stroke="#000" stroke-width="1.25" stroke-linecap="butt" fill="none"/>
<polyline points="210.5,176 210.5,167 234.8,167 234.8,212.5" fill="none" stroke="#000" stroke-width="1.3"/><path d="M222.60,160.50L222.60,157.80M222.60,160.50L225.17,159.67M222.60,160.50L224.19,162.68M222.60,160.50L221.01,162.68M222.60,160.50L220.03,159.67" stroke="#000" stroke-width="1.25" stroke-linecap="butt" fill="none"/>
<polyline points="624.5,210.5 624.5,163.3 649.3,163.3 649.3,176" fill="none" stroke="#000" stroke-width="1.3"/><path d="M636.80,155.80L636.80,153.10M636.80,155.80L639.37,154.97M636.80,155.80L638.39,157.98M636.80,155.80L635.21,157.98M636.80,155.80L634.23,154.97" stroke="#000" stroke-width="1.25" stroke-linecap="butt" fill="none"/>
</svg>
</body></html>
